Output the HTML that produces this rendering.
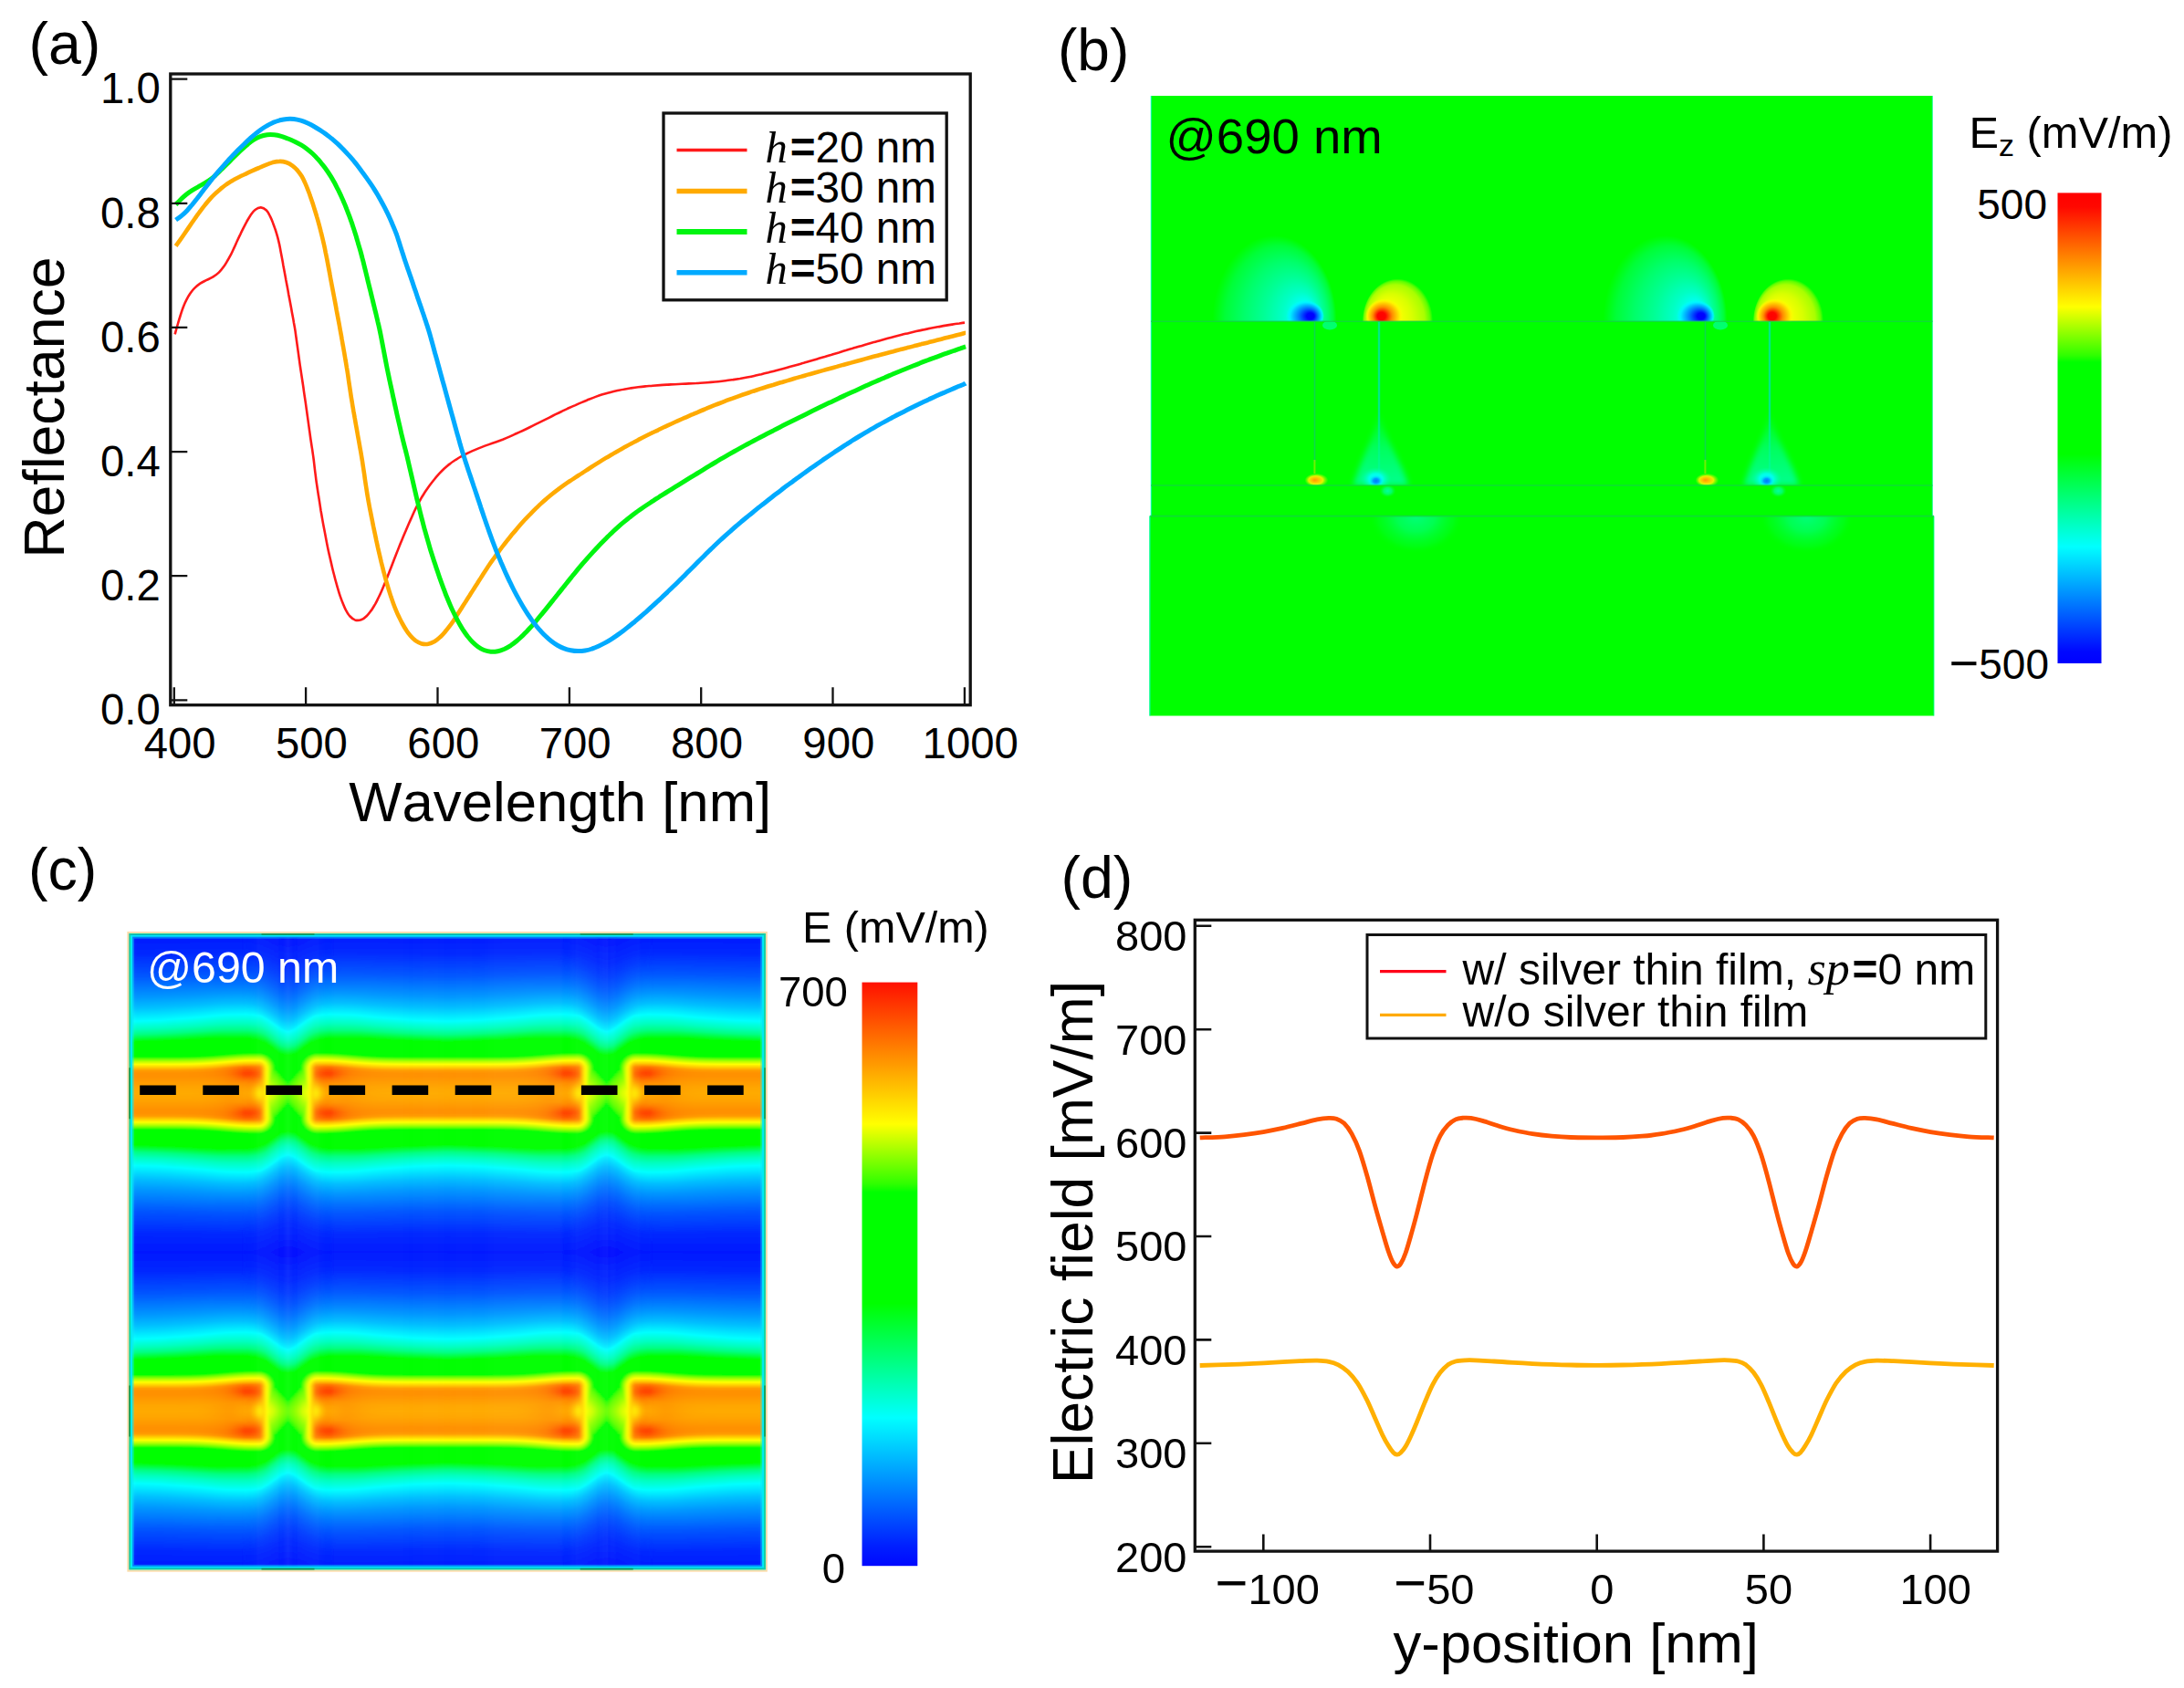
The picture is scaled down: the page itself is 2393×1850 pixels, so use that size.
<!DOCTYPE html>
<html lang="en"><head><meta charset="utf-8"><title>Figure</title>
<style>
html,body{margin:0;padding:0;background:#fff}
svg{display:block;font-family:"Liberation Sans",sans-serif;font-kerning:none}
svg .i{font-family:"Liberation Serif",serif;font-style:italic}
</style></head><body>
<svg width="2393" height="1850" viewBox="0 0 2393 1850">
<rect width="2393" height="1850" fill="#fff"/>
<defs>
<radialGradient id="bH" cx="0.5" cy="0.5" r="0.5" fx="0.798" fy="0.47"><stop offset="0" stop-color="#00ffff"/><stop offset="0.17" stop-color="#00fff4"/><stop offset="0.3" stop-color="#00ffc4"/><stop offset="0.48" stop-color="#00ff96"/><stop offset="0.68" stop-color="#00ff6a"/><stop offset="0.87" stop-color="#00ff38"/><stop offset="0.96" stop-color="#00ff10"/><stop offset="1" stop-color="#00ff00"/></radialGradient>
<radialGradient id="bC" cx="0.5" cy="0.5" r="0.5" fx="0.675" fy="0.5"><stop offset="0" stop-color="#0000ff"/><stop offset="0.2" stop-color="#0004ff"/><stop offset="0.5" stop-color="#0078ff"/><stop offset="0.84" stop-color="#00f0ff"/><stop offset="1" stop-color="#00ffff" stop-opacity="0"/></radialGradient>
<radialGradient id="rH" cx="0.5" cy="0.5" r="0.5" fx="0.265" fy="0.44"><stop offset="0" stop-color="#ffff00"/><stop offset="0.36" stop-color="#f8ff00"/><stop offset="0.6" stop-color="#d8ff00"/><stop offset="0.84" stop-color="#a8ff00"/><stop offset="0.94" stop-color="#60ff00"/><stop offset="1" stop-color="#00ff00"/></radialGradient>
<radialGradient id="rC" cx="0.5" cy="0.5" r="0.5" fx="0.405" fy="0.5"><stop offset="0" stop-color="#ff0000"/><stop offset="0.22" stop-color="#ff0400"/><stop offset="0.52" stop-color="#ff8c00"/><stop offset="0.86" stop-color="#fff000"/><stop offset="1" stop-color="#ffff00" stop-opacity="0"/></radialGradient>
<radialGradient id="sO" cx="0.5" cy="0.5" r="0.5" fx="0.42" fy="0.5"><stop offset="0" stop-color="#ff9a00"/><stop offset="0.3" stop-color="#ffc000"/><stop offset="0.6" stop-color="#f4f000" stop-opacity="0.95"/><stop offset="1" stop-color="#a0ff00" stop-opacity="0"/></radialGradient>
<radialGradient id="sB" cx="0.5" cy="0.5" r="0.5"><stop offset="0" stop-color="#0078ff"/><stop offset="0.4" stop-color="#00a0ff"/><stop offset="1" stop-color="#00f0ff" stop-opacity="0"/></radialGradient>
<radialGradient id="sC" cx="0.5" cy="0.5" r="0.5"><stop offset="0" stop-color="#00ffff"/><stop offset="0.45" stop-color="#00fff0" stop-opacity="0.9"/><stop offset="1" stop-color="#00ffa0" stop-opacity="0"/></radialGradient>
<radialGradient id="sG" cx="0.5" cy="0.5" r="0.5"><stop offset="0" stop-color="#00ffa0"/><stop offset="0.5" stop-color="#00ff80" stop-opacity="0.8"/><stop offset="1" stop-color="#00ff40" stop-opacity="0"/></radialGradient>
<linearGradient id="sH" gradientUnits="userSpaceOnUse" x1="0" y1="452" x2="0" y2="532"><stop offset="0" stop-color="#00ff60" stop-opacity="0.2"/><stop offset="0.5" stop-color="#00ff80" stop-opacity="0.75"/><stop offset="1" stop-color="#00ffa0" stop-opacity="0.9"/></linearGradient>
<radialGradient id="lH" cx="0.5" cy="0.5" r="0.5"><stop offset="0" stop-color="#00ff78"/><stop offset="0.4" stop-color="#00ff5a" stop-opacity="0.9"/><stop offset="0.8" stop-color="#00ff28" stop-opacity="0.5"/><stop offset="1" stop-color="#00ff00" stop-opacity="0"/></radialGradient>
<filter id="bl3" x="-30%" y="-30%" width="160%" height="160%"><feGaussianBlur stdDeviation="3.2"/></filter>
<clipPath id="cpU"><rect x="1255" y="100" width="870" height="252.2"/></clipPath>
<clipPath id="cpM"><rect x="1255" y="352" width="870" height="180"/></clipPath>
<clipPath id="cpL"><rect x="1255" y="565.6" width="870" height="230"/></clipPath>
<linearGradient id="cbB" x1="0" y1="0" x2="0" y2="1"><stop offset="0" stop-color="#ff0000"/><stop offset="0.03" stop-color="#ff0800"/><stop offset="0.242" stop-color="#ffff00"/><stop offset="0.345" stop-color="#30ff00"/><stop offset="0.36" stop-color="#00ff00"/><stop offset="0.555" stop-color="#00ff00"/><stop offset="0.752" stop-color="#00ffff"/><stop offset="0.975" stop-color="#0008ff"/><stop offset="1" stop-color="#0000ff"/></linearGradient>
<linearGradient id="cn0" gradientUnits="userSpaceOnUse" x1="0" y1="1198.2" x2="0" y2="1372.4" spreadMethod="reflect"><stop offset="0" stop-color="#67ff00"/><stop offset="0.0143" stop-color="#63ff00"/><stop offset="0.023" stop-color="#5dff00"/><stop offset="0.0631" stop-color="#27ff00"/><stop offset="0.0646" stop-color="#00ff00"/><stop offset="0.2396" stop-color="#00ff00"/><stop offset="0.2912" stop-color="#00ff82"/><stop offset="0.33" stop-color="#00ffbe"/><stop offset="0.3874" stop-color="#00feff"/><stop offset="0.4032" stop-color="#00ebff"/><stop offset="0.4577" stop-color="#00bfff"/><stop offset="0.5222" stop-color="#0097ff"/><stop offset="0.5911" stop-color="#0073ff"/><stop offset="0.66" stop-color="#0056ff"/><stop offset="0.7346" stop-color="#003cff"/><stop offset="0.8135" stop-color="#0028ff"/><stop offset="0.8996" stop-color="#001eff"/><stop offset="1" stop-color="#000bff"/></linearGradient>
<linearGradient id="cn1" gradientUnits="userSpaceOnUse" x1="0" y1="1198.2" x2="0" y2="1372.4" spreadMethod="reflect"><stop offset="0" stop-color="#70ff00"/><stop offset="0.0143" stop-color="#6dff00"/><stop offset="0.0316" stop-color="#62ff00"/><stop offset="0.0646" stop-color="#34ff00"/><stop offset="0.0732" stop-color="#27ff00"/><stop offset="0.0746" stop-color="#00ff00"/><stop offset="0.241" stop-color="#00ff00"/><stop offset="0.2941" stop-color="#00ff84"/><stop offset="0.3329" stop-color="#00ffbf"/><stop offset="0.3902" stop-color="#00feff"/><stop offset="0.406" stop-color="#00eaff"/><stop offset="0.4591" stop-color="#00bfff"/><stop offset="0.5237" stop-color="#0097ff"/><stop offset="0.5925" stop-color="#0073ff"/><stop offset="0.6614" stop-color="#0056ff"/><stop offset="0.736" stop-color="#003cff"/><stop offset="0.8149" stop-color="#0028ff"/><stop offset="0.901" stop-color="#001eff"/><stop offset="1" stop-color="#000bff"/></linearGradient>
<linearGradient id="cn2" gradientUnits="userSpaceOnUse" x1="0" y1="1198.2" x2="0" y2="1372.4" spreadMethod="reflect"><stop offset="0" stop-color="#79ff00"/><stop offset="0.0129" stop-color="#76ff00"/><stop offset="0.0301" stop-color="#6cff00"/><stop offset="0.043" stop-color="#62ff00"/><stop offset="0.0545" stop-color="#52ff00"/><stop offset="0.0818" stop-color="#29ff00"/><stop offset="0.0832" stop-color="#00ff00"/><stop offset="0.241" stop-color="#00ff00"/><stop offset="0.2956" stop-color="#00ff83"/><stop offset="0.3343" stop-color="#00ffbd"/><stop offset="0.3931" stop-color="#00ffff"/><stop offset="0.4089" stop-color="#00eaff"/><stop offset="0.4634" stop-color="#00beff"/><stop offset="0.5265" stop-color="#0097ff"/><stop offset="0.594" stop-color="#0074ff"/><stop offset="0.6628" stop-color="#0056ff"/><stop offset="0.7374" stop-color="#003cff"/><stop offset="0.8164" stop-color="#0028ff"/><stop offset="0.901" stop-color="#001eff"/><stop offset="1" stop-color="#000bff"/></linearGradient>
<linearGradient id="cn3" gradientUnits="userSpaceOnUse" x1="0" y1="1198.2" x2="0" y2="1372.4" spreadMethod="reflect"><stop offset="0" stop-color="#82ff00"/><stop offset="0.0215" stop-color="#7bff00"/><stop offset="0.0545" stop-color="#61ff00"/><stop offset="0.0918" stop-color="#29ff00"/><stop offset="0.0933" stop-color="#00ff00"/><stop offset="0.2425" stop-color="#00ff00"/><stop offset="0.297" stop-color="#00ff83"/><stop offset="0.3372" stop-color="#00ffbe"/><stop offset="0.3974" stop-color="#00feff"/><stop offset="0.4118" stop-color="#00ebff"/><stop offset="0.4648" stop-color="#00bfff"/><stop offset="0.5294" stop-color="#0097ff"/><stop offset="0.5968" stop-color="#0074ff"/><stop offset="0.6657" stop-color="#0056ff"/><stop offset="0.7403" stop-color="#003cff"/><stop offset="0.8178" stop-color="#0028ff"/><stop offset="0.9024" stop-color="#001eff"/><stop offset="1" stop-color="#000cff"/></linearGradient>
<linearGradient id="cn4" gradientUnits="userSpaceOnUse" x1="0" y1="1198.2" x2="0" y2="1372.4" spreadMethod="reflect"><stop offset="0" stop-color="#8bff00"/><stop offset="0.0244" stop-color="#82ff00"/><stop offset="0.0646" stop-color="#62ff00"/><stop offset="0.1004" stop-color="#2aff00"/><stop offset="0.1019" stop-color="#00ff00"/><stop offset="0.2439" stop-color="#00ff00"/><stop offset="0.2984" stop-color="#00ff82"/><stop offset="0.34" stop-color="#00ffbe"/><stop offset="0.4003" stop-color="#00ffff"/><stop offset="0.4161" stop-color="#00ebff"/><stop offset="0.4692" stop-color="#00bfff"/><stop offset="0.5323" stop-color="#0097ff"/><stop offset="0.5997" stop-color="#0074ff"/><stop offset="0.6686" stop-color="#0056ff"/><stop offset="0.7432" stop-color="#003cff"/><stop offset="0.8207" stop-color="#0028ff"/><stop offset="0.9039" stop-color="#001eff"/><stop offset="1" stop-color="#000cff"/></linearGradient>
<linearGradient id="cn5" gradientUnits="userSpaceOnUse" x1="0" y1="1198.2" x2="0" y2="1372.4" spreadMethod="reflect"><stop offset="0" stop-color="#94ff00"/><stop offset="0.0273" stop-color="#8aff00"/><stop offset="0.0746" stop-color="#62ff00"/><stop offset="0.1105" stop-color="#2aff00"/><stop offset="0.1119" stop-color="#00ff00"/><stop offset="0.2468" stop-color="#00ff00"/><stop offset="0.3027" stop-color="#00ff83"/><stop offset="0.3443" stop-color="#00ffbe"/><stop offset="0.4046" stop-color="#00ffff"/><stop offset="0.4204" stop-color="#00ebff"/><stop offset="0.4749" stop-color="#00beff"/><stop offset="0.538" stop-color="#0096ff"/><stop offset="0.604" stop-color="#0074ff"/><stop offset="0.6729" stop-color="#0055ff"/><stop offset="0.7461" stop-color="#003cff"/><stop offset="0.8235" stop-color="#0028ff"/><stop offset="0.9067" stop-color="#001eff"/><stop offset="1" stop-color="#000dff"/></linearGradient>
<linearGradient id="cn6" gradientUnits="userSpaceOnUse" x1="0" y1="1198.2" x2="0" y2="1372.4" spreadMethod="reflect"><stop offset="0" stop-color="#9eff00"/><stop offset="0.0129" stop-color="#9bff00"/><stop offset="0.0301" stop-color="#91ff00"/><stop offset="0.0846" stop-color="#61ff00"/><stop offset="0.1191" stop-color="#2bff00"/><stop offset="0.1205" stop-color="#00ff00"/><stop offset="0.2525" stop-color="#00ff00"/><stop offset="0.3085" stop-color="#00ff82"/><stop offset="0.3501" stop-color="#00ffbe"/><stop offset="0.4118" stop-color="#00feff"/><stop offset="0.4261" stop-color="#00eaff"/><stop offset="0.4792" stop-color="#00beff"/><stop offset="0.5423" stop-color="#0096ff"/><stop offset="0.6083" stop-color="#0074ff"/><stop offset="0.6772" stop-color="#0055ff"/><stop offset="0.7504" stop-color="#003cff"/><stop offset="0.8264" stop-color="#0028ff"/><stop offset="0.9082" stop-color="#001eff"/><stop offset="1" stop-color="#000dff"/></linearGradient>
<linearGradient id="cn7" gradientUnits="userSpaceOnUse" x1="0" y1="1198.2" x2="0" y2="1372.4" spreadMethod="reflect"><stop offset="0" stop-color="#a9ff00"/><stop offset="0.0129" stop-color="#a5ff00"/><stop offset="0.0344" stop-color="#97ff00"/><stop offset="0.0933" stop-color="#63ff00"/><stop offset="0.1291" stop-color="#2aff00"/><stop offset="0.1306" stop-color="#00ff00"/><stop offset="0.2597" stop-color="#00ff00"/><stop offset="0.3156" stop-color="#00ff83"/><stop offset="0.3572" stop-color="#00ffbf"/><stop offset="0.4175" stop-color="#00ffff"/><stop offset="0.4319" stop-color="#00eaff"/><stop offset="0.4849" stop-color="#00beff"/><stop offset="0.5481" stop-color="#0096ff"/><stop offset="0.6141" stop-color="#0073ff"/><stop offset="0.6815" stop-color="#0055ff"/><stop offset="0.7547" stop-color="#003cff"/><stop offset="0.8293" stop-color="#0028ff"/><stop offset="1" stop-color="#000eff"/></linearGradient>
<linearGradient id="cn8" gradientUnits="userSpaceOnUse" x1="0" y1="1198.2" x2="0" y2="1372.4" spreadMethod="reflect"><stop offset="0" stop-color="#b5ff00"/><stop offset="0.023" stop-color="#abff00"/><stop offset="0.1033" stop-color="#62ff00"/><stop offset="0.1377" stop-color="#2cff00"/><stop offset="0.1392" stop-color="#00ff00"/><stop offset="0.2654" stop-color="#00ff00"/><stop offset="0.3214" stop-color="#00ff82"/><stop offset="0.363" stop-color="#00ffbe"/><stop offset="0.4247" stop-color="#00feff"/><stop offset="0.4376" stop-color="#00eaff"/><stop offset="0.4892" stop-color="#00bfff"/><stop offset="0.5524" stop-color="#0097ff"/><stop offset="0.6184" stop-color="#0074ff"/><stop offset="0.6858" stop-color="#0056ff"/><stop offset="0.759" stop-color="#003cff"/><stop offset="0.8336" stop-color="#0028ff"/><stop offset="1" stop-color="#000fff"/></linearGradient>
<linearGradient id="cn9" gradientUnits="userSpaceOnUse" x1="0" y1="1198.2" x2="0" y2="1372.4" spreadMethod="reflect"><stop offset="0" stop-color="#c1ff00"/><stop offset="0.0115" stop-color="#beff00"/><stop offset="0.0244" stop-color="#b5ff00"/><stop offset="0.1133" stop-color="#62ff00"/><stop offset="0.1463" stop-color="#2dff00"/><stop offset="0.1478" stop-color="#00ff00"/><stop offset="0.2726" stop-color="#00ff00"/><stop offset="0.3286" stop-color="#00ff83"/><stop offset="0.3702" stop-color="#00ffbf"/><stop offset="0.4304" stop-color="#00ffff"/><stop offset="0.4433" stop-color="#00eaff"/><stop offset="0.495" stop-color="#00bfff"/><stop offset="0.5581" stop-color="#0096ff"/><stop offset="0.6241" stop-color="#0073ff"/><stop offset="0.6915" stop-color="#0055ff"/><stop offset="0.7633" stop-color="#003cff"/><stop offset="0.8364" stop-color="#0028ff"/><stop offset="1" stop-color="#0010ff"/></linearGradient>
<linearGradient id="cn10" gradientUnits="userSpaceOnUse" x1="0" y1="1198.2" x2="0" y2="1372.4" spreadMethod="reflect"><stop offset="0" stop-color="#cbff00"/><stop offset="0.0143" stop-color="#c8ff00"/><stop offset="0.0258" stop-color="#c0ff00"/><stop offset="0.122" stop-color="#63ff00"/><stop offset="0.1535" stop-color="#31ff00"/><stop offset="0.165" stop-color="#2dff00"/><stop offset="0.175" stop-color="#22ff00"/><stop offset="0.1923" stop-color="#00ff00"/><stop offset="0.2783" stop-color="#00ff00"/><stop offset="0.3343" stop-color="#00ff83"/><stop offset="0.3759" stop-color="#00ffbe"/><stop offset="0.4362" stop-color="#00ffff"/><stop offset="0.4491" stop-color="#00eaff"/><stop offset="0.5007" stop-color="#00bfff"/><stop offset="0.5638" stop-color="#0096ff"/><stop offset="0.6298" stop-color="#0073ff"/><stop offset="0.6958" stop-color="#0056ff"/><stop offset="0.7676" stop-color="#003cff"/><stop offset="0.8407" stop-color="#0028ff"/><stop offset="1" stop-color="#0010ff"/></linearGradient>
<linearGradient id="cn11" gradientUnits="userSpaceOnUse" x1="0" y1="1198.2" x2="0" y2="1372.4" spreadMethod="reflect"><stop offset="0" stop-color="#d5ff00"/><stop offset="0.0143" stop-color="#d1ff00"/><stop offset="0.0316" stop-color="#c7ff00"/><stop offset="0.0674" stop-color="#9fff00"/><stop offset="0.1277" stop-color="#67ff00"/><stop offset="0.1578" stop-color="#66ff00"/><stop offset="0.1722" stop-color="#5dff00"/><stop offset="0.1793" stop-color="#53ff00"/><stop offset="0.1894" stop-color="#3dff00"/><stop offset="0.2095" stop-color="#00ff00"/><stop offset="0.2855" stop-color="#00ff01"/><stop offset="0.34" stop-color="#00ff82"/><stop offset="0.3816" stop-color="#00ffbe"/><stop offset="0.4433" stop-color="#00feff"/><stop offset="0.4548" stop-color="#00ebff"/><stop offset="0.5065" stop-color="#00bfff"/><stop offset="0.5696" stop-color="#0096ff"/><stop offset="0.6341" stop-color="#0074ff"/><stop offset="0.7016" stop-color="#0055ff"/><stop offset="0.7719" stop-color="#003cff"/><stop offset="0.8451" stop-color="#0028ff"/><stop offset="1" stop-color="#0011ff"/></linearGradient>
<linearGradient id="cn12" gradientUnits="userSpaceOnUse" x1="0" y1="1198.2" x2="0" y2="1372.4" spreadMethod="reflect"><stop offset="0" stop-color="#deff00"/><stop offset="0.0187" stop-color="#d8ff00"/><stop offset="0.043" stop-color="#c7ff00"/><stop offset="0.089" stop-color="#94ff00"/><stop offset="0.1564" stop-color="#94ff00"/><stop offset="0.1693" stop-color="#8dff00"/><stop offset="0.1836" stop-color="#79ff00"/><stop offset="0.198" stop-color="#58ff00"/><stop offset="0.2209" stop-color="#00ff00"/><stop offset="0.2912" stop-color="#00ff00"/><stop offset="0.3472" stop-color="#00ff83"/><stop offset="0.3888" stop-color="#00ffbf"/><stop offset="0.4491" stop-color="#00ffff"/><stop offset="0.4605" stop-color="#00ebff"/><stop offset="0.5122" stop-color="#00bfff"/><stop offset="0.5753" stop-color="#0096ff"/><stop offset="0.6399" stop-color="#0074ff"/><stop offset="0.7059" stop-color="#0056ff"/><stop offset="0.7762" stop-color="#003cff"/><stop offset="0.8494" stop-color="#0028ff"/><stop offset="1" stop-color="#0012ff"/></linearGradient>
<linearGradient id="cn13" gradientUnits="userSpaceOnUse" x1="0" y1="1198.2" x2="0" y2="1372.4" spreadMethod="reflect"><stop offset="0" stop-color="#e7ff00"/><stop offset="0.0258" stop-color="#ddff00"/><stop offset="0.0617" stop-color="#bfff00"/><stop offset="0.1564" stop-color="#bfff00"/><stop offset="0.1722" stop-color="#b6ff00"/><stop offset="0.1879" stop-color="#99ff00"/><stop offset="0.2052" stop-color="#6aff00"/><stop offset="0.2123" stop-color="#50ff00"/><stop offset="0.2296" stop-color="#00ff00"/><stop offset="0.297" stop-color="#00ff00"/><stop offset="0.3529" stop-color="#00ff83"/><stop offset="0.3945" stop-color="#00ffbe"/><stop offset="0.4548" stop-color="#00ffff"/><stop offset="0.4677" stop-color="#00eaff"/><stop offset="0.5179" stop-color="#00bfff"/><stop offset="0.5811" stop-color="#0096ff"/><stop offset="0.6456" stop-color="#0073ff"/><stop offset="0.7116" stop-color="#0055ff"/><stop offset="0.7805" stop-color="#003cff"/><stop offset="0.8522" stop-color="#0028ff"/><stop offset="1" stop-color="#0013ff"/></linearGradient>
<linearGradient id="cn14" gradientUnits="userSpaceOnUse" x1="0" y1="1198.2" x2="0" y2="1372.4" spreadMethod="reflect"><stop offset="0" stop-color="#f4ff00"/><stop offset="0.0129" stop-color="#f0ff00"/><stop offset="0.033" stop-color="#e2ff00"/><stop offset="0.1564" stop-color="#e2ff00"/><stop offset="0.1707" stop-color="#d9ff00"/><stop offset="0.1808" stop-color="#ccff00"/><stop offset="0.1908" stop-color="#b9ff00"/><stop offset="0.2023" stop-color="#97ff00"/><stop offset="0.2195" stop-color="#58ff00"/><stop offset="0.2367" stop-color="#00ff00"/><stop offset="0.3042" stop-color="#00ff01"/><stop offset="0.3587" stop-color="#00ff82"/><stop offset="0.4003" stop-color="#00ffbe"/><stop offset="0.462" stop-color="#00fdff"/><stop offset="0.4735" stop-color="#00eaff"/><stop offset="0.5237" stop-color="#00beff"/><stop offset="0.5854" stop-color="#0097ff"/><stop offset="0.6499" stop-color="#0074ff"/><stop offset="0.7159" stop-color="#0055ff"/><stop offset="0.7848" stop-color="#003cff"/><stop offset="0.8565" stop-color="#0028ff"/><stop offset="1" stop-color="#0013ff"/></linearGradient>
<linearGradient id="cn15" gradientUnits="userSpaceOnUse" x1="0" y1="1198.2" x2="0" y2="1372.4" spreadMethod="reflect"><stop offset="0" stop-color="#fffc00"/><stop offset="0.1549" stop-color="#fffb00"/><stop offset="0.1679" stop-color="#feff00"/><stop offset="0.1851" stop-color="#e3ff00"/><stop offset="0.2037" stop-color="#b4ff00"/><stop offset="0.2267" stop-color="#57ff00"/><stop offset="0.2425" stop-color="#00ff00"/><stop offset="0.3099" stop-color="#00ff00"/><stop offset="0.3659" stop-color="#00ff84"/><stop offset="0.406" stop-color="#00ffbe"/><stop offset="0.4663" stop-color="#00ffff"/><stop offset="0.4778" stop-color="#00ebff"/><stop offset="0.5294" stop-color="#00beff"/><stop offset="0.5911" stop-color="#0096ff"/><stop offset="0.6557" stop-color="#0073ff"/><stop offset="0.7202" stop-color="#0056ff"/><stop offset="0.7891" stop-color="#003cff"/><stop offset="0.8594" stop-color="#0028ff"/><stop offset="1" stop-color="#0014ff"/></linearGradient>
<linearGradient id="cn16" gradientUnits="userSpaceOnUse" x1="0" y1="1198.2" x2="0" y2="1372.4" spreadMethod="reflect"><stop offset="0" stop-color="#ffeb00"/><stop offset="0.1564" stop-color="#ffe500"/><stop offset="0.1693" stop-color="#ffeb00"/><stop offset="0.1851" stop-color="#fffe00"/><stop offset="0.198" stop-color="#deff00"/><stop offset="0.2123" stop-color="#b0ff00"/><stop offset="0.231" stop-color="#5cff00"/><stop offset="0.2468" stop-color="#00ff00"/><stop offset="0.3156" stop-color="#00ff00"/><stop offset="0.3702" stop-color="#00ff82"/><stop offset="0.4118" stop-color="#00ffbf"/><stop offset="0.4706" stop-color="#00ffff"/><stop offset="0.4835" stop-color="#00ebff"/><stop offset="0.5337" stop-color="#00beff"/><stop offset="0.5954" stop-color="#0096ff"/><stop offset="0.66" stop-color="#0073ff"/><stop offset="0.7245" stop-color="#0056ff"/><stop offset="0.7934" stop-color="#003cff"/><stop offset="0.8623" stop-color="#0028ff"/><stop offset="1" stop-color="#0015ff"/></linearGradient>
<linearGradient id="cn17" gradientUnits="userSpaceOnUse" x1="0" y1="1198.2" x2="0" y2="1372.4" spreadMethod="reflect"><stop offset="0" stop-color="#ffe100"/><stop offset="0.109" stop-color="#ffca00"/><stop offset="0.1549" stop-color="#ffcb00"/><stop offset="0.1707" stop-color="#ffd700"/><stop offset="0.1951" stop-color="#feff00"/><stop offset="0.2166" stop-color="#b5ff00"/><stop offset="0.2353" stop-color="#5bff00"/><stop offset="0.2496" stop-color="#01ff00"/><stop offset="0.2511" stop-color="#00ff00"/><stop offset="0.3185" stop-color="#00ff00"/><stop offset="0.3745" stop-color="#00ff83"/><stop offset="0.4161" stop-color="#00ffbf"/><stop offset="0.4763" stop-color="#00feff"/><stop offset="0.4892" stop-color="#00eaff"/><stop offset="0.538" stop-color="#00bfff"/><stop offset="0.5997" stop-color="#0097ff"/><stop offset="0.6643" stop-color="#0073ff"/><stop offset="0.7288" stop-color="#0055ff"/><stop offset="0.7963" stop-color="#003cff"/><stop offset="0.8651" stop-color="#0028ff"/><stop offset="1" stop-color="#0015ff"/></linearGradient>
<linearGradient id="cn18" gradientUnits="userSpaceOnUse" x1="0" y1="1198.2" x2="0" y2="1372.4" spreadMethod="reflect"><stop offset="0" stop-color="#ffde00"/><stop offset="0.0258" stop-color="#ffd700"/><stop offset="0.1033" stop-color="#ffae00"/><stop offset="0.1205" stop-color="#ffa900"/><stop offset="0.1377" stop-color="#ffaa00"/><stop offset="0.1564" stop-color="#ffae00"/><stop offset="0.165" stop-color="#ffb600"/><stop offset="0.175" stop-color="#ffc800"/><stop offset="0.2009" stop-color="#feff00"/><stop offset="0.2209" stop-color="#b3ff00"/><stop offset="0.2382" stop-color="#5cff00"/><stop offset="0.2525" stop-color="#00ff00"/><stop offset="0.3228" stop-color="#00ff01"/><stop offset="0.3788" stop-color="#00ff83"/><stop offset="0.4204" stop-color="#00ffbf"/><stop offset="0.4806" stop-color="#00ffff"/><stop offset="0.4935" stop-color="#00eaff"/><stop offset="0.5423" stop-color="#00bfff"/><stop offset="0.604" stop-color="#0097ff"/><stop offset="0.6686" stop-color="#0073ff"/><stop offset="0.7317" stop-color="#0056ff"/><stop offset="0.8006" stop-color="#003cff"/><stop offset="0.868" stop-color="#0028ff"/><stop offset="1" stop-color="#0016ff"/></linearGradient>
<linearGradient id="cn19" gradientUnits="userSpaceOnUse" x1="0" y1="1198.2" x2="0" y2="1372.4" spreadMethod="reflect"><stop offset="0" stop-color="#ffe200"/><stop offset="0.0129" stop-color="#ffdf00"/><stop offset="0.0258" stop-color="#ffd700"/><stop offset="0.1019" stop-color="#ff9000"/><stop offset="0.1162" stop-color="#ff8800"/><stop offset="0.1306" stop-color="#ff8700"/><stop offset="0.1549" stop-color="#ff9000"/><stop offset="0.1621" stop-color="#ff9800"/><stop offset="0.1736" stop-color="#ffb100"/><stop offset="0.2037" stop-color="#fffe00"/><stop offset="0.2238" stop-color="#b1ff00"/><stop offset="0.241" stop-color="#57ff00"/><stop offset="0.2539" stop-color="#02ff00"/><stop offset="0.2554" stop-color="#00ff00"/><stop offset="0.3257" stop-color="#00ff00"/><stop offset="0.3816" stop-color="#00ff82"/><stop offset="0.4247" stop-color="#00ffbf"/><stop offset="0.4864" stop-color="#00feff"/><stop offset="0.4978" stop-color="#00eaff"/><stop offset="0.5466" stop-color="#00bfff"/><stop offset="0.6083" stop-color="#0096ff"/><stop offset="0.6714" stop-color="#0074ff"/><stop offset="0.736" stop-color="#0055ff"/><stop offset="0.8034" stop-color="#003cff"/><stop offset="0.8709" stop-color="#0028ff"/><stop offset="1" stop-color="#0016ff"/></linearGradient>
<linearGradient id="cn20" gradientUnits="userSpaceOnUse" x1="0" y1="1198.2" x2="0" y2="1372.4" spreadMethod="reflect"><stop offset="0" stop-color="#ffe700"/><stop offset="0.0129" stop-color="#ffe400"/><stop offset="0.0273" stop-color="#ffd800"/><stop offset="0.1033" stop-color="#ff7c00"/><stop offset="0.1162" stop-color="#ff7300"/><stop offset="0.1291" stop-color="#ff7100"/><stop offset="0.1506" stop-color="#ff7b00"/><stop offset="0.165" stop-color="#ff8800"/><stop offset="0.1937" stop-color="#ffdf00"/><stop offset="0.2052" stop-color="#fffd00"/><stop offset="0.2066" stop-color="#fdff00"/><stop offset="0.2253" stop-color="#b1ff00"/><stop offset="0.2425" stop-color="#55ff00"/><stop offset="0.2554" stop-color="#00ff00"/><stop offset="0.3286" stop-color="#00ff00"/><stop offset="0.3845" stop-color="#00ff82"/><stop offset="0.4275" stop-color="#00ffbf"/><stop offset="0.4892" stop-color="#00feff"/><stop offset="0.5007" stop-color="#00ebff"/><stop offset="0.5509" stop-color="#00beff"/><stop offset="0.6112" stop-color="#0097ff"/><stop offset="0.6743" stop-color="#0074ff"/><stop offset="0.7389" stop-color="#0055ff"/><stop offset="0.8063" stop-color="#003cff"/><stop offset="0.8737" stop-color="#0028ff"/><stop offset="1" stop-color="#0017ff"/></linearGradient>
<linearGradient id="cn21" gradientUnits="userSpaceOnUse" x1="0" y1="1198.2" x2="0" y2="1372.4" spreadMethod="reflect"><stop offset="0" stop-color="#ffe000"/><stop offset="0.0129" stop-color="#ffdc00"/><stop offset="0.0287" stop-color="#ffcf00"/><stop offset="0.1047" stop-color="#ff6f00"/><stop offset="0.1176" stop-color="#ff6600"/><stop offset="0.1291" stop-color="#ff6500"/><stop offset="0.1535" stop-color="#ff7300"/><stop offset="0.1664" stop-color="#ff8500"/><stop offset="0.1908" stop-color="#ffd400"/><stop offset="0.2066" stop-color="#ffff00"/><stop offset="0.2253" stop-color="#b3ff00"/><stop offset="0.2425" stop-color="#57ff00"/><stop offset="0.2554" stop-color="#00ff00"/><stop offset="0.2568" stop-color="#00ff00"/><stop offset="0.3314" stop-color="#00ff00"/><stop offset="0.3874" stop-color="#00ff83"/><stop offset="0.429" stop-color="#00ffbe"/><stop offset="0.4892" stop-color="#00ffff"/><stop offset="0.5036" stop-color="#00ebff"/><stop offset="0.5538" stop-color="#00beff"/><stop offset="0.6141" stop-color="#0096ff"/><stop offset="0.6772" stop-color="#0074ff"/><stop offset="0.7403" stop-color="#0056ff"/><stop offset="0.8077" stop-color="#003cff"/><stop offset="0.8752" stop-color="#0028ff"/><stop offset="1" stop-color="#0017ff"/></linearGradient>
<linearGradient id="cn22" gradientUnits="userSpaceOnUse" x1="0" y1="1198.2" x2="0" y2="1372.4" spreadMethod="reflect"><stop offset="0" stop-color="#ffd800"/><stop offset="0.0143" stop-color="#ffd300"/><stop offset="0.0301" stop-color="#ffc600"/><stop offset="0.1076" stop-color="#ff6500"/><stop offset="0.1191" stop-color="#ff5e00"/><stop offset="0.1291" stop-color="#ff5d00"/><stop offset="0.1506" stop-color="#ff6a00"/><stop offset="0.1664" stop-color="#ff8300"/><stop offset="0.1894" stop-color="#ffcf00"/><stop offset="0.2066" stop-color="#ffff00"/><stop offset="0.2253" stop-color="#b3ff00"/><stop offset="0.2425" stop-color="#57ff00"/><stop offset="0.2554" stop-color="#00ff00"/><stop offset="0.2568" stop-color="#00ff00"/><stop offset="0.3357" stop-color="#00ff01"/><stop offset="0.3902" stop-color="#00ff83"/><stop offset="0.4304" stop-color="#00ffbe"/><stop offset="0.4907" stop-color="#00feff"/><stop offset="0.5065" stop-color="#00ebff"/><stop offset="0.5552" stop-color="#00bfff"/><stop offset="0.6169" stop-color="#0096ff"/><stop offset="0.6801" stop-color="#0073ff"/><stop offset="0.7432" stop-color="#0056ff"/><stop offset="0.8106" stop-color="#003cff"/><stop offset="0.8766" stop-color="#0028ff"/><stop offset="1" stop-color="#0017ff"/></linearGradient>
<linearGradient id="cn23" gradientUnits="userSpaceOnUse" x1="0" y1="1198.2" x2="0" y2="1372.4" spreadMethod="reflect"><stop offset="0" stop-color="#ffce00"/><stop offset="0.0129" stop-color="#ffca00"/><stop offset="0.0287" stop-color="#ffbf00"/><stop offset="0.0617" stop-color="#ff9a00"/><stop offset="0.1062" stop-color="#ff6100"/><stop offset="0.1176" stop-color="#ff5800"/><stop offset="0.1291" stop-color="#ff5700"/><stop offset="0.1506" stop-color="#ff6600"/><stop offset="0.1664" stop-color="#ff8000"/><stop offset="0.1894" stop-color="#ffcf00"/><stop offset="0.2066" stop-color="#ffff00"/><stop offset="0.2253" stop-color="#b3ff00"/><stop offset="0.2425" stop-color="#57ff00"/><stop offset="0.2554" stop-color="#00ff00"/><stop offset="0.2568" stop-color="#00ff00"/><stop offset="0.3372" stop-color="#00ff01"/><stop offset="0.3917" stop-color="#00ff83"/><stop offset="0.4319" stop-color="#00ffbe"/><stop offset="0.4907" stop-color="#00ffff"/><stop offset="0.5093" stop-color="#00ebff"/><stop offset="0.5581" stop-color="#00beff"/><stop offset="0.6198" stop-color="#0096ff"/><stop offset="0.6815" stop-color="#0074ff"/><stop offset="0.7446" stop-color="#0056ff"/><stop offset="0.8121" stop-color="#003cff"/><stop offset="0.878" stop-color="#0028ff"/><stop offset="1" stop-color="#0018ff"/></linearGradient>
<linearGradient id="cn24" gradientUnits="userSpaceOnUse" x1="0" y1="1198.2" x2="0" y2="1372.4" spreadMethod="reflect"><stop offset="0" stop-color="#ffc000"/><stop offset="0.0158" stop-color="#ffbc00"/><stop offset="0.033" stop-color="#ffb000"/><stop offset="0.0674" stop-color="#ff8d00"/><stop offset="0.1076" stop-color="#ff5900"/><stop offset="0.1176" stop-color="#ff5200"/><stop offset="0.1291" stop-color="#ff5100"/><stop offset="0.1506" stop-color="#ff6200"/><stop offset="0.1664" stop-color="#ff7d00"/><stop offset="0.1879" stop-color="#ffca00"/><stop offset="0.2066" stop-color="#ffff00"/><stop offset="0.2253" stop-color="#b3ff00"/><stop offset="0.2425" stop-color="#57ff00"/><stop offset="0.2554" stop-color="#00ff00"/><stop offset="0.2568" stop-color="#00ff00"/><stop offset="0.3386" stop-color="#00ff01"/><stop offset="0.3931" stop-color="#00ff84"/><stop offset="0.4333" stop-color="#00ffbf"/><stop offset="0.4921" stop-color="#00ffff"/><stop offset="0.561" stop-color="#00beff"/><stop offset="0.6212" stop-color="#0096ff"/><stop offset="0.6844" stop-color="#0073ff"/><stop offset="0.7475" stop-color="#0055ff"/><stop offset="0.8795" stop-color="#0028ff"/><stop offset="1" stop-color="#0018ff"/></linearGradient>
<linearGradient id="cn25" gradientUnits="userSpaceOnUse" x1="0" y1="1198.2" x2="0" y2="1372.4" spreadMethod="reflect"><stop offset="0" stop-color="#ffb400"/><stop offset="0.0201" stop-color="#ffaf00"/><stop offset="0.0473" stop-color="#ff9c00"/><stop offset="0.0732" stop-color="#ff8400"/><stop offset="0.109" stop-color="#ff5500"/><stop offset="0.1205" stop-color="#ff4c00"/><stop offset="0.1291" stop-color="#ff4b00"/><stop offset="0.1506" stop-color="#ff5e00"/><stop offset="0.1664" stop-color="#ff7b00"/><stop offset="0.1879" stop-color="#ffca00"/><stop offset="0.2066" stop-color="#ffff00"/><stop offset="0.2253" stop-color="#b3ff00"/><stop offset="0.2425" stop-color="#57ff00"/><stop offset="0.2554" stop-color="#00ff00"/><stop offset="0.2568" stop-color="#00ff00"/><stop offset="0.34" stop-color="#00ff01"/><stop offset="0.3945" stop-color="#00ff84"/><stop offset="0.4347" stop-color="#00ffbf"/><stop offset="0.4935" stop-color="#00ffff"/><stop offset="0.5624" stop-color="#00bfff"/><stop offset="0.6241" stop-color="#0096ff"/><stop offset="0.6858" stop-color="#0074ff"/><stop offset="0.7489" stop-color="#0056ff"/><stop offset="0.8809" stop-color="#0028ff"/><stop offset="1" stop-color="#0018ff"/></linearGradient>
<linearGradient id="cn26" gradientUnits="userSpaceOnUse" x1="0" y1="1198.2" x2="0" y2="1372.4" spreadMethod="reflect"><stop offset="0" stop-color="#ffac00"/><stop offset="0.0244" stop-color="#ffa500"/><stop offset="0.0574" stop-color="#ff9100"/><stop offset="0.0775" stop-color="#ff7d00"/><stop offset="0.1133" stop-color="#ff4d00"/><stop offset="0.1291" stop-color="#ff4600"/><stop offset="0.1506" stop-color="#ff5b00"/><stop offset="0.1664" stop-color="#ff7900"/><stop offset="0.1879" stop-color="#ffca00"/><stop offset="0.2066" stop-color="#ffff00"/><stop offset="0.2253" stop-color="#b2ff00"/><stop offset="0.2425" stop-color="#57ff00"/><stop offset="0.2554" stop-color="#00ff00"/><stop offset="0.3415" stop-color="#00ff00"/><stop offset="0.396" stop-color="#00ff84"/><stop offset="0.4347" stop-color="#00ffbd"/><stop offset="0.495" stop-color="#00feff"/><stop offset="0.5638" stop-color="#00bfff"/><stop offset="0.6241" stop-color="#0097ff"/><stop offset="0.6872" stop-color="#0074ff"/><stop offset="0.7504" stop-color="#0056ff"/><stop offset="0.8164" stop-color="#003cff"/><stop offset="0.8824" stop-color="#0028ff"/><stop offset="1" stop-color="#0019ff"/></linearGradient>
<linearGradient id="cn27" gradientUnits="userSpaceOnUse" x1="0" y1="1198.2" x2="0" y2="1372.4" spreadMethod="reflect"><stop offset="0" stop-color="#ffa700"/><stop offset="0.0273" stop-color="#ffa000"/><stop offset="0.0617" stop-color="#ff8c00"/><stop offset="0.0832" stop-color="#ff7700"/><stop offset="0.1119" stop-color="#ff4d00"/><stop offset="0.1205" stop-color="#ff4600"/><stop offset="0.1291" stop-color="#ff4400"/><stop offset="0.1506" stop-color="#ff5900"/><stop offset="0.1664" stop-color="#ff7800"/><stop offset="0.1765" stop-color="#ffa100"/><stop offset="0.1879" stop-color="#ffca00"/><stop offset="0.2066" stop-color="#feff00"/><stop offset="0.2253" stop-color="#b1ff00"/><stop offset="0.2425" stop-color="#55ff00"/><stop offset="0.2554" stop-color="#00ff00"/><stop offset="0.3429" stop-color="#00ff00"/><stop offset="0.396" stop-color="#00ff81"/><stop offset="0.4362" stop-color="#00ffbd"/><stop offset="0.495" stop-color="#00ffff"/><stop offset="0.5653" stop-color="#00bfff"/><stop offset="0.6255" stop-color="#0097ff"/><stop offset="0.6887" stop-color="#0074ff"/><stop offset="0.7518" stop-color="#0056ff"/><stop offset="0.8178" stop-color="#003cff"/><stop offset="0.8838" stop-color="#0028ff"/><stop offset="1" stop-color="#0019ff"/></linearGradient>
<linearGradient id="cn28" gradientUnits="userSpaceOnUse" x1="0" y1="1198.2" x2="0" y2="1372.4" spreadMethod="reflect"><stop offset="0" stop-color="#ffa600"/><stop offset="0.0287" stop-color="#ff9f00"/><stop offset="0.0646" stop-color="#ff8c00"/><stop offset="0.0803" stop-color="#ff7c00"/><stop offset="0.1119" stop-color="#ff4d00"/><stop offset="0.1205" stop-color="#ff4600"/><stop offset="0.1291" stop-color="#ff4500"/><stop offset="0.1492" stop-color="#ff5700"/><stop offset="0.1664" stop-color="#ff7900"/><stop offset="0.1765" stop-color="#ffa200"/><stop offset="0.1865" stop-color="#ffc600"/><stop offset="0.2052" stop-color="#fffd00"/><stop offset="0.2066" stop-color="#fcff00"/><stop offset="0.2253" stop-color="#afff00"/><stop offset="0.241" stop-color="#5cff00"/><stop offset="0.2539" stop-color="#06ff00"/><stop offset="0.2554" stop-color="#00ff00"/><stop offset="0.3443" stop-color="#00ff00"/><stop offset="0.3974" stop-color="#00ff81"/><stop offset="0.4376" stop-color="#00ffbe"/><stop offset="0.4964" stop-color="#00ffff"/><stop offset="0.5667" stop-color="#00bfff"/><stop offset="0.627" stop-color="#0097ff"/><stop offset="0.6901" stop-color="#0074ff"/><stop offset="0.7532" stop-color="#0055ff"/><stop offset="0.8838" stop-color="#0028ff"/><stop offset="1" stop-color="#0019ff"/></linearGradient>
<linearGradient id="cn29" gradientUnits="userSpaceOnUse" x1="0" y1="1198.2" x2="0" y2="1372.4" spreadMethod="reflect"><stop offset="0" stop-color="#ffa600"/><stop offset="0.0301" stop-color="#ffa000"/><stop offset="0.066" stop-color="#ff8d00"/><stop offset="0.0789" stop-color="#ff7e00"/><stop offset="0.1105" stop-color="#ff5000"/><stop offset="0.1205" stop-color="#ff4800"/><stop offset="0.1291" stop-color="#ff4700"/><stop offset="0.1492" stop-color="#ff5900"/><stop offset="0.165" stop-color="#ff7600"/><stop offset="0.1865" stop-color="#ffc700"/><stop offset="0.2052" stop-color="#fffe00"/><stop offset="0.2238" stop-color="#b5ff00"/><stop offset="0.241" stop-color="#59ff00"/><stop offset="0.2539" stop-color="#03ff00"/><stop offset="0.2554" stop-color="#00ff00"/><stop offset="0.3443" stop-color="#00ff00"/><stop offset="0.3974" stop-color="#00ff82"/><stop offset="0.4376" stop-color="#00ffbe"/><stop offset="0.4964" stop-color="#00ffff"/><stop offset="0.5681" stop-color="#00beff"/><stop offset="0.627" stop-color="#0097ff"/><stop offset="0.6901" stop-color="#0074ff"/><stop offset="0.7532" stop-color="#0056ff"/><stop offset="0.8192" stop-color="#003cff"/><stop offset="0.8852" stop-color="#0028ff"/><stop offset="1" stop-color="#0019ff"/></linearGradient>
<linearGradient id="cf0" gradientUnits="userSpaceOnUse" x1="0" y1="1198.2" x2="0" y2="1372.4" spreadMethod="reflect"><stop offset="0" stop-color="#ffba00"/><stop offset="0.0187" stop-color="#ffb500"/><stop offset="0.0402" stop-color="#ffa600"/><stop offset="0.0703" stop-color="#ff8800"/><stop offset="0.109" stop-color="#ff5600"/><stop offset="0.1291" stop-color="#ff4d00"/><stop offset="0.1506" stop-color="#ff6000"/><stop offset="0.1664" stop-color="#ff7c00"/><stop offset="0.1879" stop-color="#ffca00"/><stop offset="0.2066" stop-color="#ffff00"/><stop offset="0.2253" stop-color="#b3ff00"/><stop offset="0.2425" stop-color="#57ff00"/><stop offset="0.2554" stop-color="#00ff00"/><stop offset="0.2568" stop-color="#00ff00"/><stop offset="0.3386" stop-color="#00ff00"/><stop offset="0.3931" stop-color="#00ff83"/><stop offset="0.4333" stop-color="#00ffbe"/><stop offset="0.4921" stop-color="#00ffff"/><stop offset="0.561" stop-color="#00bfff"/><stop offset="0.6227" stop-color="#0096ff"/><stop offset="0.6844" stop-color="#0074ff"/><stop offset="0.7475" stop-color="#0056ff"/><stop offset="0.8149" stop-color="#003cff"/><stop offset="0.8809" stop-color="#0028ff"/><stop offset="1" stop-color="#0018ff"/></linearGradient>
<linearGradient id="cf1" gradientUnits="userSpaceOnUse" x1="0" y1="1198.2" x2="0" y2="1372.4" spreadMethod="reflect"><stop offset="0" stop-color="#ffa900"/><stop offset="0.0258" stop-color="#ffa200"/><stop offset="0.0603" stop-color="#ff8e00"/><stop offset="0.0803" stop-color="#ff7a00"/><stop offset="0.1133" stop-color="#ff4c00"/><stop offset="0.122" stop-color="#ff4600"/><stop offset="0.1291" stop-color="#ff4500"/><stop offset="0.1506" stop-color="#ff5a00"/><stop offset="0.1664" stop-color="#ff7900"/><stop offset="0.1765" stop-color="#ffa100"/><stop offset="0.1879" stop-color="#ffca00"/><stop offset="0.2066" stop-color="#feff00"/><stop offset="0.2253" stop-color="#b2ff00"/><stop offset="0.2425" stop-color="#56ff00"/><stop offset="0.2554" stop-color="#00ff00"/><stop offset="0.3415" stop-color="#00ff00"/><stop offset="0.396" stop-color="#00ff83"/><stop offset="0.4362" stop-color="#00ffbe"/><stop offset="0.495" stop-color="#00ffff"/><stop offset="0.5653" stop-color="#00bfff"/><stop offset="0.6255" stop-color="#0097ff"/><stop offset="0.6887" stop-color="#0073ff"/><stop offset="0.7518" stop-color="#0055ff"/><stop offset="0.8824" stop-color="#0028ff"/><stop offset="1" stop-color="#0019ff"/></linearGradient>
<linearGradient id="cf2" gradientUnits="userSpaceOnUse" x1="0" y1="1198.2" x2="0" y2="1372.4" spreadMethod="reflect"><stop offset="0" stop-color="#ffa600"/><stop offset="0.0287" stop-color="#ffa000"/><stop offset="0.0646" stop-color="#ff8d00"/><stop offset="0.076" stop-color="#ff8200"/><stop offset="0.1105" stop-color="#ff4f00"/><stop offset="0.1205" stop-color="#ff4700"/><stop offset="0.1291" stop-color="#ff4600"/><stop offset="0.1492" stop-color="#ff5800"/><stop offset="0.165" stop-color="#ff7600"/><stop offset="0.1865" stop-color="#ffc700"/><stop offset="0.2052" stop-color="#fffd00"/><stop offset="0.2253" stop-color="#aeff00"/><stop offset="0.241" stop-color="#5bff00"/><stop offset="0.2539" stop-color="#04ff00"/><stop offset="0.2554" stop-color="#00ff00"/><stop offset="0.3443" stop-color="#00ff00"/><stop offset="0.3974" stop-color="#00ff82"/><stop offset="0.4376" stop-color="#00ffbe"/><stop offset="0.4964" stop-color="#00ffff"/><stop offset="0.5681" stop-color="#00beff"/><stop offset="0.627" stop-color="#0097ff"/><stop offset="0.6901" stop-color="#0074ff"/><stop offset="0.7532" stop-color="#0055ff"/><stop offset="0.8838" stop-color="#0028ff"/><stop offset="1" stop-color="#0019ff"/></linearGradient>
<linearGradient id="cf3" gradientUnits="userSpaceOnUse" x1="0" y1="1198.2" x2="0" y2="1372.4" spreadMethod="reflect"><stop offset="0" stop-color="#ffa600"/><stop offset="0.0273" stop-color="#ffa100"/><stop offset="0.0574" stop-color="#ff9500"/><stop offset="0.076" stop-color="#ff8300"/><stop offset="0.1119" stop-color="#ff5500"/><stop offset="0.122" stop-color="#ff4e00"/><stop offset="0.1306" stop-color="#ff4f00"/><stop offset="0.1492" stop-color="#ff5e00"/><stop offset="0.165" stop-color="#ff7900"/><stop offset="0.1851" stop-color="#ffc500"/><stop offset="0.2037" stop-color="#fffd00"/><stop offset="0.2052" stop-color="#fdff00"/><stop offset="0.2238" stop-color="#b0ff00"/><stop offset="0.2396" stop-color="#5dff00"/><stop offset="0.2539" stop-color="#00ff00"/><stop offset="0.3443" stop-color="#00ff00"/><stop offset="0.3974" stop-color="#00ff82"/><stop offset="0.4376" stop-color="#00ffbe"/><stop offset="0.4964" stop-color="#00ffff"/><stop offset="0.5681" stop-color="#00bfff"/><stop offset="0.6284" stop-color="#0097ff"/><stop offset="0.6915" stop-color="#0073ff"/><stop offset="0.7532" stop-color="#0056ff"/><stop offset="0.8192" stop-color="#003cff"/><stop offset="0.8852" stop-color="#0028ff"/><stop offset="1" stop-color="#0019ff"/></linearGradient>
<linearGradient id="cf4" gradientUnits="userSpaceOnUse" x1="0" y1="1198.2" x2="0" y2="1372.4" spreadMethod="reflect"><stop offset="0" stop-color="#ffa300"/><stop offset="0.0258" stop-color="#ffa000"/><stop offset="0.056" stop-color="#ff9500"/><stop offset="0.0746" stop-color="#ff8600"/><stop offset="0.1133" stop-color="#ff6000"/><stop offset="0.1248" stop-color="#ff5b00"/><stop offset="0.1349" stop-color="#ff5d00"/><stop offset="0.1478" stop-color="#ff6600"/><stop offset="0.1636" stop-color="#ff7d00"/><stop offset="0.1851" stop-color="#ffca00"/><stop offset="0.2023" stop-color="#fffc00"/><stop offset="0.2037" stop-color="#fdff00"/><stop offset="0.2224" stop-color="#b0ff00"/><stop offset="0.2382" stop-color="#5dff00"/><stop offset="0.2525" stop-color="#00ff00"/><stop offset="0.3443" stop-color="#00ff00"/><stop offset="0.3974" stop-color="#00ff82"/><stop offset="0.4376" stop-color="#00ffbe"/><stop offset="0.4964" stop-color="#00feff"/><stop offset="0.5681" stop-color="#00bfff"/><stop offset="0.6284" stop-color="#0097ff"/><stop offset="0.6915" stop-color="#0073ff"/><stop offset="0.7547" stop-color="#0055ff"/><stop offset="0.8852" stop-color="#0028ff"/><stop offset="1" stop-color="#0019ff"/></linearGradient>
<linearGradient id="cf5" gradientUnits="userSpaceOnUse" x1="0" y1="1198.2" x2="0" y2="1372.4" spreadMethod="reflect"><stop offset="0" stop-color="#ff9e00"/><stop offset="0.0201" stop-color="#ff9d00"/><stop offset="0.0545" stop-color="#ff9500"/><stop offset="0.122" stop-color="#ff6900"/><stop offset="0.1449" stop-color="#ff6e00"/><stop offset="0.1636" stop-color="#ff8600"/><stop offset="0.1851" stop-color="#ffd000"/><stop offset="0.2009" stop-color="#fffd00"/><stop offset="0.2023" stop-color="#fcff00"/><stop offset="0.2209" stop-color="#afff00"/><stop offset="0.2367" stop-color="#5cff00"/><stop offset="0.2496" stop-color="#05ff00"/><stop offset="0.2511" stop-color="#00ff00"/><stop offset="0.3443" stop-color="#00ff00"/><stop offset="0.3974" stop-color="#00ff82"/><stop offset="0.4376" stop-color="#00ffbf"/><stop offset="0.495" stop-color="#00ffff"/><stop offset="0.5681" stop-color="#00bfff"/><stop offset="0.6284" stop-color="#0097ff"/><stop offset="0.6915" stop-color="#0073ff"/><stop offset="0.7547" stop-color="#0055ff"/><stop offset="0.8852" stop-color="#0028ff"/><stop offset="1" stop-color="#0019ff"/></linearGradient>
<linearGradient id="cf6" gradientUnits="userSpaceOnUse" x1="0" y1="1198.2" x2="0" y2="1372.4" spreadMethod="reflect"><stop offset="0" stop-color="#ff9c00"/><stop offset="0.0516" stop-color="#ff9600"/><stop offset="0.1205" stop-color="#ff7400"/><stop offset="0.1435" stop-color="#ff7700"/><stop offset="0.1607" stop-color="#ff8800"/><stop offset="0.1865" stop-color="#ffdb00"/><stop offset="0.1994" stop-color="#fffe00"/><stop offset="0.2181" stop-color="#b4ff00"/><stop offset="0.2353" stop-color="#59ff00"/><stop offset="0.2482" stop-color="#02ff00"/><stop offset="0.2496" stop-color="#00ff00"/><stop offset="0.3443" stop-color="#00ff00"/><stop offset="0.3974" stop-color="#00ff82"/><stop offset="0.4376" stop-color="#00ffbf"/><stop offset="0.495" stop-color="#00ffff"/><stop offset="0.5681" stop-color="#00beff"/><stop offset="0.6284" stop-color="#0097ff"/><stop offset="0.6915" stop-color="#0073ff"/><stop offset="0.7547" stop-color="#0055ff"/><stop offset="0.8852" stop-color="#0028ff"/><stop offset="1" stop-color="#0019ff"/></linearGradient>
<linearGradient id="cf7" gradientUnits="userSpaceOnUse" x1="0" y1="1198.2" x2="0" y2="1372.4" spreadMethod="reflect"><stop offset="0" stop-color="#ff9c00"/><stop offset="0.0502" stop-color="#ff9700"/><stop offset="0.1191" stop-color="#ff7c00"/><stop offset="0.142" stop-color="#ff7d00"/><stop offset="0.1593" stop-color="#ff8d00"/><stop offset="0.1851" stop-color="#ffdd00"/><stop offset="0.198" stop-color="#feff00"/><stop offset="0.2166" stop-color="#b2ff00"/><stop offset="0.2339" stop-color="#56ff00"/><stop offset="0.2468" stop-color="#00ff00"/><stop offset="0.3443" stop-color="#00ff00"/><stop offset="0.3974" stop-color="#00ff82"/><stop offset="0.4362" stop-color="#00ffbd"/><stop offset="0.495" stop-color="#00feff"/><stop offset="0.5667" stop-color="#00bfff"/><stop offset="0.627" stop-color="#0097ff"/><stop offset="0.6915" stop-color="#0073ff"/><stop offset="0.7532" stop-color="#0056ff"/><stop offset="0.8852" stop-color="#0028ff"/><stop offset="1" stop-color="#0019ff"/></linearGradient>
<linearGradient id="cf8" gradientUnits="userSpaceOnUse" x1="0" y1="1198.2" x2="0" y2="1372.4" spreadMethod="reflect"><stop offset="0" stop-color="#ff9e00"/><stop offset="0.0488" stop-color="#ff9900"/><stop offset="0.1176" stop-color="#ff8200"/><stop offset="0.1406" stop-color="#ff8300"/><stop offset="0.1578" stop-color="#ff9200"/><stop offset="0.1836" stop-color="#ffdf00"/><stop offset="0.1951" stop-color="#fffd00"/><stop offset="0.1966" stop-color="#fcff00"/><stop offset="0.2152" stop-color="#afff00"/><stop offset="0.231" stop-color="#5bff00"/><stop offset="0.2439" stop-color="#05ff00"/><stop offset="0.2453" stop-color="#00ff00"/><stop offset="0.3458" stop-color="#00ff01"/><stop offset="0.3974" stop-color="#00ff82"/><stop offset="0.4362" stop-color="#00ffbe"/><stop offset="0.4935" stop-color="#00ffff"/><stop offset="0.5667" stop-color="#00bfff"/><stop offset="0.627" stop-color="#0097ff"/><stop offset="0.6915" stop-color="#0073ff"/><stop offset="0.7532" stop-color="#0056ff"/><stop offset="0.8852" stop-color="#0028ff"/><stop offset="1" stop-color="#0019ff"/></linearGradient>
<linearGradient id="cf9" gradientUnits="userSpaceOnUse" x1="0" y1="1198.2" x2="0" y2="1372.4" spreadMethod="reflect"><stop offset="0" stop-color="#ffa000"/><stop offset="0.0459" stop-color="#ff9c00"/><stop offset="0.1148" stop-color="#ff8600"/><stop offset="0.1377" stop-color="#ff8600"/><stop offset="0.1549" stop-color="#ff9300"/><stop offset="0.1937" stop-color="#ffff00"/><stop offset="0.2123" stop-color="#b3ff00"/><stop offset="0.2296" stop-color="#58ff00"/><stop offset="0.2425" stop-color="#01ff00"/><stop offset="0.2439" stop-color="#00ff00"/><stop offset="0.3458" stop-color="#00ff01"/><stop offset="0.3974" stop-color="#00ff84"/><stop offset="0.4347" stop-color="#00ffbd"/><stop offset="0.4921" stop-color="#00feff"/><stop offset="0.5653" stop-color="#00bfff"/><stop offset="0.6255" stop-color="#0097ff"/><stop offset="0.6901" stop-color="#0073ff"/><stop offset="0.7532" stop-color="#0055ff"/><stop offset="0.8852" stop-color="#0028ff"/><stop offset="1" stop-color="#0019ff"/></linearGradient>
<linearGradient id="cf10" gradientUnits="userSpaceOnUse" x1="0" y1="1198.2" x2="0" y2="1372.4" spreadMethod="reflect"><stop offset="0" stop-color="#ffa200"/><stop offset="0.0445" stop-color="#ff9e00"/><stop offset="0.1133" stop-color="#ff8900"/><stop offset="0.1363" stop-color="#ff8900"/><stop offset="0.1535" stop-color="#ff9600"/><stop offset="0.1793" stop-color="#ffdf00"/><stop offset="0.1923" stop-color="#feff00"/><stop offset="0.2109" stop-color="#b1ff00"/><stop offset="0.2267" stop-color="#5dff00"/><stop offset="0.241" stop-color="#00ff00"/><stop offset="0.3458" stop-color="#00ff01"/><stop offset="0.396" stop-color="#00ff82"/><stop offset="0.4333" stop-color="#00ffbd"/><stop offset="0.4892" stop-color="#00ffff"/><stop offset="0.5638" stop-color="#00bfff"/><stop offset="0.6241" stop-color="#0097ff"/><stop offset="0.6887" stop-color="#0074ff"/><stop offset="0.7518" stop-color="#0056ff"/><stop offset="0.8838" stop-color="#0028ff"/><stop offset="1" stop-color="#0019ff"/></linearGradient>
<linearGradient id="cf11" gradientUnits="userSpaceOnUse" x1="0" y1="1198.2" x2="0" y2="1372.4" spreadMethod="reflect"><stop offset="0" stop-color="#ffa400"/><stop offset="0.043" stop-color="#ffa000"/><stop offset="0.1119" stop-color="#ff8b00"/><stop offset="0.1349" stop-color="#ff8b00"/><stop offset="0.1521" stop-color="#ff9900"/><stop offset="0.1894" stop-color="#fffd00"/><stop offset="0.1908" stop-color="#fdff00"/><stop offset="0.2095" stop-color="#afff00"/><stop offset="0.2253" stop-color="#5cff00"/><stop offset="0.2382" stop-color="#06ff00"/><stop offset="0.2396" stop-color="#00ff00"/><stop offset="0.3443" stop-color="#00ff00"/><stop offset="0.3945" stop-color="#00ff82"/><stop offset="0.4319" stop-color="#00ffbe"/><stop offset="0.4878" stop-color="#00feff"/><stop offset="0.5624" stop-color="#00bfff"/><stop offset="0.6241" stop-color="#0097ff"/><stop offset="0.7518" stop-color="#0055ff"/><stop offset="0.8838" stop-color="#0028ff"/><stop offset="1" stop-color="#0019ff"/></linearGradient>
<linearGradient id="cf12" gradientUnits="userSpaceOnUse" x1="0" y1="1198.2" x2="0" y2="1372.4" spreadMethod="reflect"><stop offset="0" stop-color="#ffa600"/><stop offset="0.0416" stop-color="#ffa100"/><stop offset="0.1105" stop-color="#ff8c00"/><stop offset="0.1334" stop-color="#ff8d00"/><stop offset="0.1506" stop-color="#ff9b00"/><stop offset="0.1879" stop-color="#fffd00"/><stop offset="0.1894" stop-color="#fcff00"/><stop offset="0.208" stop-color="#afff00"/><stop offset="0.2238" stop-color="#5bff00"/><stop offset="0.2367" stop-color="#05ff00"/><stop offset="0.2382" stop-color="#00ff00"/><stop offset="0.3429" stop-color="#00ff00"/><stop offset="0.3931" stop-color="#00ff82"/><stop offset="0.4304" stop-color="#00ffbe"/><stop offset="0.4849" stop-color="#00ffff"/><stop offset="0.561" stop-color="#00beff"/><stop offset="0.6227" stop-color="#0097ff"/><stop offset="0.7504" stop-color="#0056ff"/><stop offset="0.8838" stop-color="#0028ff"/><stop offset="1" stop-color="#0019ff"/></linearGradient>
<linearGradient id="cf13" gradientUnits="userSpaceOnUse" x1="0" y1="1198.2" x2="0" y2="1372.4" spreadMethod="reflect"><stop offset="0" stop-color="#ffa700"/><stop offset="0.0402" stop-color="#ffa300"/><stop offset="0.109" stop-color="#ff8e00"/><stop offset="0.132" stop-color="#ff8e00"/><stop offset="0.1492" stop-color="#ff9c00"/><stop offset="0.1865" stop-color="#fffd00"/><stop offset="0.1879" stop-color="#fcff00"/><stop offset="0.2066" stop-color="#afff00"/><stop offset="0.2224" stop-color="#5cff00"/><stop offset="0.2353" stop-color="#05ff00"/><stop offset="0.2367" stop-color="#00ff00"/><stop offset="0.3429" stop-color="#00ff01"/><stop offset="0.3917" stop-color="#00ff83"/><stop offset="0.429" stop-color="#00ffbf"/><stop offset="0.4821" stop-color="#00ffff"/><stop offset="0.5595" stop-color="#00beff"/><stop offset="0.6212" stop-color="#0097ff"/><stop offset="0.7504" stop-color="#0055ff"/><stop offset="0.8824" stop-color="#0028ff"/><stop offset="1" stop-color="#0019ff"/></linearGradient>
<linearGradient id="cf14" gradientUnits="userSpaceOnUse" x1="0" y1="1198.2" x2="0" y2="1372.4" spreadMethod="reflect"><stop offset="0" stop-color="#ffa800"/><stop offset="0.0387" stop-color="#ffa400"/><stop offset="0.1076" stop-color="#ff8f00"/><stop offset="0.1306" stop-color="#ff8f00"/><stop offset="0.1478" stop-color="#ff9c00"/><stop offset="0.1865" stop-color="#feff00"/><stop offset="0.2052" stop-color="#b1ff00"/><stop offset="0.2209" stop-color="#5dff00"/><stop offset="0.2353" stop-color="#00ff00"/><stop offset="0.3415" stop-color="#00ff01"/><stop offset="0.3902" stop-color="#00ff83"/><stop offset="0.4261" stop-color="#00ffbe"/><stop offset="0.4806" stop-color="#00feff"/><stop offset="0.5567" stop-color="#00bfff"/><stop offset="0.6198" stop-color="#0097ff"/><stop offset="0.7489" stop-color="#0056ff"/><stop offset="0.8824" stop-color="#0028ff"/><stop offset="1" stop-color="#0019ff"/></linearGradient>
<linearGradient id="cf15" gradientUnits="userSpaceOnUse" x1="0" y1="1198.2" x2="0" y2="1372.4" spreadMethod="reflect"><stop offset="0" stop-color="#ffa900"/><stop offset="0.0373" stop-color="#ffa500"/><stop offset="0.1062" stop-color="#ff9000"/><stop offset="0.1291" stop-color="#ff9000"/><stop offset="0.1463" stop-color="#ff9c00"/><stop offset="0.1851" stop-color="#ffff00"/><stop offset="0.2037" stop-color="#b3ff00"/><stop offset="0.2209" stop-color="#58ff00"/><stop offset="0.2339" stop-color="#01ff00"/><stop offset="0.2353" stop-color="#00ff00"/><stop offset="0.34" stop-color="#00ff00"/><stop offset="0.3888" stop-color="#00ff83"/><stop offset="0.4247" stop-color="#00ffbe"/><stop offset="0.4778" stop-color="#00ffff"/><stop offset="0.5552" stop-color="#00bfff"/><stop offset="0.6184" stop-color="#0097ff"/><stop offset="0.7489" stop-color="#0055ff"/><stop offset="0.8824" stop-color="#0028ff"/><stop offset="1" stop-color="#0019ff"/></linearGradient>
<linearGradient id="cf16" gradientUnits="userSpaceOnUse" x1="0" y1="1198.2" x2="0" y2="1372.4" spreadMethod="reflect"><stop offset="0" stop-color="#ffa900"/><stop offset="0.0373" stop-color="#ffa500"/><stop offset="0.1062" stop-color="#ff9000"/><stop offset="0.1291" stop-color="#ff9000"/><stop offset="0.1463" stop-color="#ff9e00"/><stop offset="0.1836" stop-color="#fffd00"/><stop offset="0.1851" stop-color="#fcff00"/><stop offset="0.2037" stop-color="#afff00"/><stop offset="0.2195" stop-color="#5bff00"/><stop offset="0.2324" stop-color="#05ff00"/><stop offset="0.2339" stop-color="#00ff00"/><stop offset="0.3386" stop-color="#00ff00"/><stop offset="0.3874" stop-color="#00ff83"/><stop offset="0.4232" stop-color="#00ffbf"/><stop offset="0.4763" stop-color="#00feff"/><stop offset="0.5538" stop-color="#00bfff"/><stop offset="0.6169" stop-color="#0097ff"/><stop offset="0.7475" stop-color="#0056ff"/><stop offset="0.8809" stop-color="#0028ff"/><stop offset="1" stop-color="#0019ff"/></linearGradient>
<linearGradient id="cf17" gradientUnits="userSpaceOnUse" x1="0" y1="1198.2" x2="0" y2="1372.4" spreadMethod="reflect"><stop offset="0" stop-color="#ffaa00"/><stop offset="0.0359" stop-color="#ffa500"/><stop offset="0.1047" stop-color="#ff9000"/><stop offset="0.1277" stop-color="#ff9000"/><stop offset="0.1449" stop-color="#ff9d00"/><stop offset="0.1836" stop-color="#ffff00"/><stop offset="0.2023" stop-color="#b3ff00"/><stop offset="0.2195" stop-color="#58ff00"/><stop offset="0.2324" stop-color="#01ff00"/><stop offset="0.2339" stop-color="#00ff00"/><stop offset="0.3372" stop-color="#00ff00"/><stop offset="0.3859" stop-color="#00ff83"/><stop offset="0.4218" stop-color="#00ffbf"/><stop offset="0.4749" stop-color="#00feff"/><stop offset="0.5524" stop-color="#00bfff"/><stop offset="0.6169" stop-color="#0097ff"/><stop offset="0.7475" stop-color="#0055ff"/><stop offset="0.8809" stop-color="#0028ff"/><stop offset="1" stop-color="#0019ff"/></linearGradient>
<linearGradient id="cf18" gradientUnits="userSpaceOnUse" x1="0" y1="1198.2" x2="0" y2="1372.4" spreadMethod="reflect"><stop offset="0" stop-color="#ffaa00"/><stop offset="0.0359" stop-color="#ffa600"/><stop offset="0.1047" stop-color="#ff9100"/><stop offset="0.1277" stop-color="#ff9100"/><stop offset="0.1449" stop-color="#ff9d00"/><stop offset="0.1836" stop-color="#feff00"/><stop offset="0.2023" stop-color="#b1ff00"/><stop offset="0.2181" stop-color="#5dff00"/><stop offset="0.2324" stop-color="#00ff00"/><stop offset="0.3357" stop-color="#00ff00"/><stop offset="0.3845" stop-color="#00ff83"/><stop offset="0.4204" stop-color="#00ffbf"/><stop offset="0.472" stop-color="#00ffff"/><stop offset="0.5509" stop-color="#00bfff"/><stop offset="0.6155" stop-color="#0097ff"/><stop offset="0.7461" stop-color="#0056ff"/><stop offset="0.8809" stop-color="#0028ff"/><stop offset="1" stop-color="#0019ff"/></linearGradient>
<linearGradient id="cf19" gradientUnits="userSpaceOnUse" x1="0" y1="1198.2" x2="0" y2="1372.4" spreadMethod="reflect"><stop offset="0" stop-color="#ffaa00"/><stop offset="0.0359" stop-color="#ffa500"/><stop offset="0.1033" stop-color="#ff9100"/><stop offset="0.1277" stop-color="#ff9100"/><stop offset="0.1449" stop-color="#ff9e00"/><stop offset="0.1822" stop-color="#fffd00"/><stop offset="0.1836" stop-color="#fcff00"/><stop offset="0.2023" stop-color="#afff00"/><stop offset="0.2181" stop-color="#5bff00"/><stop offset="0.231" stop-color="#05ff00"/><stop offset="0.2324" stop-color="#00ff00"/><stop offset="0.3343" stop-color="#00ff00"/><stop offset="0.3831" stop-color="#00ff83"/><stop offset="0.4189" stop-color="#00ffbf"/><stop offset="0.4706" stop-color="#00ffff"/><stop offset="0.5509" stop-color="#00beff"/><stop offset="0.6141" stop-color="#0097ff"/><stop offset="0.7461" stop-color="#0056ff"/><stop offset="0.8809" stop-color="#0028ff"/><stop offset="1" stop-color="#0019ff"/></linearGradient>
<linearGradient id="cf20" gradientUnits="userSpaceOnUse" x1="0" y1="1198.2" x2="0" y2="1372.4" spreadMethod="reflect"><stop offset="0" stop-color="#ffaa00"/><stop offset="0.0359" stop-color="#ffa500"/><stop offset="0.1033" stop-color="#ff9100"/><stop offset="0.1277" stop-color="#ff9100"/><stop offset="0.1449" stop-color="#ff9f00"/><stop offset="0.1822" stop-color="#fffe00"/><stop offset="0.2009" stop-color="#b5ff00"/><stop offset="0.2181" stop-color="#5aff00"/><stop offset="0.231" stop-color="#03ff00"/><stop offset="0.2324" stop-color="#00ff00"/><stop offset="0.3329" stop-color="#00ff00"/><stop offset="0.3816" stop-color="#00ff83"/><stop offset="0.4161" stop-color="#00ffbd"/><stop offset="0.4692" stop-color="#00ffff"/><stop offset="0.5495" stop-color="#00beff"/><stop offset="0.6141" stop-color="#0097ff"/><stop offset="0.7461" stop-color="#0055ff"/><stop offset="0.8795" stop-color="#0028ff"/><stop offset="1" stop-color="#0019ff"/></linearGradient>
<linearGradient id="cf21" gradientUnits="userSpaceOnUse" x1="0" y1="1198.2" x2="0" y2="1372.4" spreadMethod="reflect"><stop offset="0" stop-color="#ffaa00"/><stop offset="0.0344" stop-color="#ffa600"/><stop offset="0.1033" stop-color="#ff9100"/><stop offset="0.1263" stop-color="#ff9100"/><stop offset="0.1449" stop-color="#ffa000"/><stop offset="0.1822" stop-color="#fffe00"/><stop offset="0.2009" stop-color="#b4ff00"/><stop offset="0.2181" stop-color="#58ff00"/><stop offset="0.231" stop-color="#02ff00"/><stop offset="0.2324" stop-color="#00ff00"/><stop offset="0.3329" stop-color="#00ff01"/><stop offset="0.3802" stop-color="#00ff83"/><stop offset="0.4146" stop-color="#00ffbd"/><stop offset="0.4677" stop-color="#00feff"/><stop offset="0.5481" stop-color="#00bfff"/><stop offset="0.6126" stop-color="#0097ff"/><stop offset="0.7446" stop-color="#0056ff"/><stop offset="0.8795" stop-color="#0028ff"/><stop offset="1" stop-color="#0019ff"/></linearGradient>
<linearGradient id="cf22" gradientUnits="userSpaceOnUse" x1="0" y1="1198.2" x2="0" y2="1372.4" spreadMethod="reflect"><stop offset="0" stop-color="#ffaa00"/><stop offset="0.0344" stop-color="#ffa600"/><stop offset="0.1033" stop-color="#ff9100"/><stop offset="0.1263" stop-color="#ff9100"/><stop offset="0.1435" stop-color="#ff9d00"/><stop offset="0.1822" stop-color="#ffff00"/><stop offset="0.2009" stop-color="#b3ff00"/><stop offset="0.2181" stop-color="#58ff00"/><stop offset="0.231" stop-color="#01ff00"/><stop offset="0.2324" stop-color="#00ff00"/><stop offset="0.3314" stop-color="#00ff00"/><stop offset="0.3788" stop-color="#00ff83"/><stop offset="0.4132" stop-color="#00ffbd"/><stop offset="0.4663" stop-color="#00feff"/><stop offset="0.5466" stop-color="#00bfff"/><stop offset="0.6112" stop-color="#0097ff"/><stop offset="0.7446" stop-color="#0055ff"/><stop offset="0.8795" stop-color="#0028ff"/><stop offset="1" stop-color="#0019ff"/></linearGradient>
<linearGradient id="cf23" gradientUnits="userSpaceOnUse" x1="0" y1="1198.2" x2="0" y2="1372.4" spreadMethod="reflect"><stop offset="0" stop-color="#ffaa00"/><stop offset="0.0344" stop-color="#ffa600"/><stop offset="0.1033" stop-color="#ff9100"/><stop offset="0.1263" stop-color="#ff9100"/><stop offset="0.1435" stop-color="#ff9d00"/><stop offset="0.1822" stop-color="#ffff00"/><stop offset="0.2009" stop-color="#b2ff00"/><stop offset="0.2181" stop-color="#57ff00"/><stop offset="0.231" stop-color="#00ff00"/><stop offset="0.33" stop-color="#00ff00"/><stop offset="0.3773" stop-color="#00ff83"/><stop offset="0.4118" stop-color="#00ffbe"/><stop offset="0.4634" stop-color="#00feff"/><stop offset="0.5452" stop-color="#00beff"/><stop offset="0.6098" stop-color="#0097ff"/><stop offset="0.7432" stop-color="#0056ff"/><stop offset="0.8795" stop-color="#0028ff"/><stop offset="1" stop-color="#0019ff"/></linearGradient>
<linearGradient id="cf24" gradientUnits="userSpaceOnUse" x1="0" y1="1198.2" x2="0" y2="1372.4" spreadMethod="reflect"><stop offset="0" stop-color="#ffaa00"/><stop offset="0.0344" stop-color="#ffa600"/><stop offset="0.1033" stop-color="#ff9100"/><stop offset="0.1263" stop-color="#ff9100"/><stop offset="0.1435" stop-color="#ff9d00"/><stop offset="0.1822" stop-color="#feff00"/><stop offset="0.2009" stop-color="#b2ff00"/><stop offset="0.2181" stop-color="#56ff00"/><stop offset="0.231" stop-color="#00ff00"/><stop offset="0.3286" stop-color="#00ff00"/><stop offset="0.3745" stop-color="#00ff82"/><stop offset="0.4089" stop-color="#00ffbe"/><stop offset="0.4591" stop-color="#00ffff"/><stop offset="0.5423" stop-color="#00bfff"/><stop offset="0.6083" stop-color="#0097ff"/><stop offset="0.7432" stop-color="#0055ff"/><stop offset="0.878" stop-color="#0028ff"/><stop offset="1" stop-color="#0019ff"/></linearGradient>
<linearGradient id="cf25" gradientUnits="userSpaceOnUse" x1="0" y1="1198.2" x2="0" y2="1372.4" spreadMethod="reflect"><stop offset="0" stop-color="#ffaa00"/><stop offset="0.0344" stop-color="#ffa600"/><stop offset="0.1033" stop-color="#ff9100"/><stop offset="0.1263" stop-color="#ff9100"/><stop offset="0.1435" stop-color="#ff9d00"/><stop offset="0.1822" stop-color="#feff00"/><stop offset="0.2009" stop-color="#b2ff00"/><stop offset="0.2181" stop-color="#56ff00"/><stop offset="0.231" stop-color="#00ff00"/><stop offset="0.3271" stop-color="#00ff00"/><stop offset="0.373" stop-color="#00ff83"/><stop offset="0.4075" stop-color="#00ffbe"/><stop offset="0.4577" stop-color="#00ffff"/><stop offset="0.5409" stop-color="#00bfff"/><stop offset="0.6069" stop-color="#0097ff"/><stop offset="0.7418" stop-color="#0056ff"/><stop offset="0.878" stop-color="#0028ff"/><stop offset="1" stop-color="#0019ff"/></linearGradient>
<linearGradient id="cf26" gradientUnits="userSpaceOnUse" x1="0" y1="1198.2" x2="0" y2="1372.4" spreadMethod="reflect"><stop offset="0" stop-color="#ffaa00"/><stop offset="0.0344" stop-color="#ffa600"/><stop offset="0.1033" stop-color="#ff9100"/><stop offset="0.1263" stop-color="#ff9100"/><stop offset="0.1435" stop-color="#ff9d00"/><stop offset="0.1822" stop-color="#feff00"/><stop offset="0.2009" stop-color="#b1ff00"/><stop offset="0.2181" stop-color="#56ff00"/><stop offset="0.231" stop-color="#00ff00"/><stop offset="0.3257" stop-color="#00ff01"/><stop offset="0.3716" stop-color="#00ff83"/><stop offset="0.406" stop-color="#00ffbe"/><stop offset="0.4562" stop-color="#00ffff"/><stop offset="0.5395" stop-color="#00bfff"/><stop offset="0.6069" stop-color="#0097ff"/><stop offset="0.7418" stop-color="#0055ff"/><stop offset="0.878" stop-color="#0028ff"/><stop offset="1" stop-color="#0019ff"/></linearGradient>
<linearGradient id="cf27" gradientUnits="userSpaceOnUse" x1="0" y1="1198.2" x2="0" y2="1372.4" spreadMethod="reflect"><stop offset="0" stop-color="#ffaa00"/><stop offset="0.0344" stop-color="#ffa600"/><stop offset="0.1033" stop-color="#ff9100"/><stop offset="0.1263" stop-color="#ff9100"/><stop offset="0.1435" stop-color="#ff9d00"/><stop offset="0.1822" stop-color="#feff00"/><stop offset="0.2009" stop-color="#b1ff00"/><stop offset="0.2181" stop-color="#55ff00"/><stop offset="0.231" stop-color="#00ff00"/><stop offset="0.3242" stop-color="#00ff02"/><stop offset="0.3702" stop-color="#00ff83"/><stop offset="0.4046" stop-color="#00ffbf"/><stop offset="0.4548" stop-color="#00ffff"/><stop offset="0.5395" stop-color="#00beff"/><stop offset="0.6055" stop-color="#0097ff"/><stop offset="0.7403" stop-color="#0056ff"/><stop offset="0.878" stop-color="#0028ff"/><stop offset="1" stop-color="#0019ff"/></linearGradient>
<linearGradient id="cf28" gradientUnits="userSpaceOnUse" x1="0" y1="1198.2" x2="0" y2="1372.4" spreadMethod="reflect"><stop offset="0" stop-color="#ffaa00"/><stop offset="0.0344" stop-color="#ffa600"/><stop offset="0.1033" stop-color="#ff9100"/><stop offset="0.1263" stop-color="#ff9100"/><stop offset="0.1435" stop-color="#ff9d00"/><stop offset="0.1822" stop-color="#feff00"/><stop offset="0.2009" stop-color="#b1ff00"/><stop offset="0.2181" stop-color="#55ff00"/><stop offset="0.231" stop-color="#00ff00"/><stop offset="0.3214" stop-color="#00ff00"/><stop offset="0.3687" stop-color="#00ff84"/><stop offset="0.4032" stop-color="#00ffbf"/><stop offset="0.4534" stop-color="#00ffff"/><stop offset="0.538" stop-color="#00bfff"/><stop offset="0.604" stop-color="#0097ff"/><stop offset="0.7403" stop-color="#0056ff"/><stop offset="0.8766" stop-color="#0028ff"/><stop offset="1" stop-color="#0019ff"/></linearGradient>
<clipPath id="cpC"><rect x="141.8" y="1023.4" width="696.4" height="696.6"/></clipPath>
<filter id="blx" filterUnits="userSpaceOnUse" x="111.8" y="1003.4" width="756.4" height="736.6"><feGaussianBlur stdDeviation="1.1 0.6"/></filter>
<filter id="blf" filterUnits="userSpaceOnUse" x="111.8" y="1003.4" width="756.4" height="736.6"><feGaussianBlur stdDeviation="4.5 0.6"/></filter>
<linearGradient id="cbC" x1="0" y1="0" x2="0" y2="1"><stop offset="0" stop-color="#ff1000"/><stop offset="0.243" stop-color="#ffff00"/><stop offset="0.345" stop-color="#30ff00"/><stop offset="0.36" stop-color="#00ff00"/><stop offset="0.55" stop-color="#00ff00"/><stop offset="0.746" stop-color="#00ffff"/><stop offset="0.965" stop-color="#0020ff"/><stop offset="1" stop-color="#0008ff"/></linearGradient>
<g id="chn"><rect x="-0.1" y="1019.4" width="1.9" height="704.6" fill="url(#cn0)"/><rect x="1.4" y="1019.4" width="1.9" height="704.6" fill="url(#cn1)"/><rect x="3" y="1019.4" width="1.9" height="704.6" fill="url(#cn2)"/><rect x="4.5" y="1019.4" width="1.9" height="704.6" fill="url(#cn3)"/><rect x="6" y="1019.4" width="1.9" height="704.6" fill="url(#cn4)"/><rect x="7.5" y="1019.4" width="1.9" height="704.6" fill="url(#cn5)"/><rect x="8.9" y="1019.4" width="1.9" height="704.6" fill="url(#cn6)"/><rect x="10.4" y="1019.4" width="1.9" height="704.6" fill="url(#cn7)"/><rect x="11.9" y="1019.4" width="1.9" height="704.6" fill="url(#cn8)"/><rect x="13.4" y="1019.4" width="1.9" height="704.6" fill="url(#cn9)"/><rect x="14.9" y="1019.4" width="1.9" height="704.6" fill="url(#cn10)"/><rect x="16.4" y="1019.4" width="1.9" height="704.6" fill="url(#cn11)"/><rect x="17.9" y="1019.4" width="1.9" height="704.6" fill="url(#cn12)"/><rect x="19.4" y="1019.4" width="1.9" height="704.6" fill="url(#cn13)"/><rect x="20.9" y="1019.4" width="1.9" height="704.6" fill="url(#cn14)"/><rect x="22.4" y="1019.4" width="1.9" height="704.6" fill="url(#cn15)"/><rect x="23.9" y="1019.4" width="1.9" height="704.6" fill="url(#cn16)"/><rect x="25.4" y="1019.4" width="1.9" height="704.6" fill="url(#cn17)"/><rect x="26.9" y="1019.4" width="1.9" height="704.6" fill="url(#cn18)"/><rect x="28.4" y="1019.4" width="1.9" height="704.6" fill="url(#cn19)"/><rect x="29.9" y="1019.4" width="1.9" height="704.6" fill="url(#cn20)"/><rect x="31.4" y="1019.4" width="1.9" height="704.6" fill="url(#cn21)"/><rect x="33" y="1019.4" width="1.9" height="704.6" fill="url(#cn22)"/><rect x="34.5" y="1019.4" width="1.9" height="704.6" fill="url(#cn23)"/><rect x="36" y="1019.4" width="2.4" height="704.6" fill="url(#cn24)"/><rect x="38" y="1019.4" width="2.4" height="704.6" fill="url(#cn25)"/><rect x="40" y="1019.4" width="2.4" height="704.6" fill="url(#cn26)"/><rect x="42" y="1019.4" width="2.4" height="704.6" fill="url(#cn27)"/><rect x="44" y="1019.4" width="2.4" height="704.6" fill="url(#cn28)"/><rect x="46" y="1019.4" width="2.4" height="704.6" fill="url(#cn29)"/></g><g id="cgn"><use href="#chn"/><use href="#chn" transform="scale(-1 1)"/></g>
<g id="chf"><rect x="36" y="1019.4" width="4.4" height="704.6" fill="url(#cf0)"/><rect x="40" y="1019.4" width="4.4" height="704.6" fill="url(#cf1)"/><rect x="44" y="1019.4" width="4.4" height="704.6" fill="url(#cf2)"/><rect x="48" y="1019.4" width="4.4" height="704.6" fill="url(#cf3)"/><rect x="52" y="1019.4" width="4.4" height="704.6" fill="url(#cf4)"/><rect x="56" y="1019.4" width="4.4" height="704.6" fill="url(#cf5)"/><rect x="60" y="1019.4" width="4.4" height="704.6" fill="url(#cf6)"/><rect x="64" y="1019.4" width="4.4" height="704.6" fill="url(#cf7)"/><rect x="68" y="1019.4" width="4.4" height="704.6" fill="url(#cf8)"/><rect x="72" y="1019.4" width="4.4" height="704.6" fill="url(#cf9)"/><rect x="76" y="1019.4" width="4.4" height="704.6" fill="url(#cf10)"/><rect x="80" y="1019.4" width="4.4" height="704.6" fill="url(#cf11)"/><rect x="84" y="1019.4" width="4.4" height="704.6" fill="url(#cf12)"/><rect x="88" y="1019.4" width="4.4" height="704.6" fill="url(#cf13)"/><rect x="92" y="1019.4" width="4.4" height="704.6" fill="url(#cf14)"/><rect x="96" y="1019.4" width="4.4" height="704.6" fill="url(#cf15)"/><rect x="100" y="1019.4" width="4.4" height="704.6" fill="url(#cf16)"/><rect x="104" y="1019.4" width="4.4" height="704.6" fill="url(#cf17)"/><rect x="108" y="1019.4" width="4.4" height="704.6" fill="url(#cf18)"/><rect x="112" y="1019.4" width="4.4" height="704.6" fill="url(#cf19)"/><rect x="116" y="1019.4" width="4.4" height="704.6" fill="url(#cf20)"/><rect x="120" y="1019.4" width="4.4" height="704.6" fill="url(#cf21)"/><rect x="124" y="1019.4" width="4.4" height="704.6" fill="url(#cf22)"/><rect x="128" y="1019.4" width="8.4" height="704.6" fill="url(#cf23)"/><rect x="135.9" y="1019.4" width="8.4" height="704.6" fill="url(#cf24)"/><rect x="143.9" y="1019.4" width="8.4" height="704.6" fill="url(#cf25)"/><rect x="151.9" y="1019.4" width="8.4" height="704.6" fill="url(#cf26)"/><rect x="159.9" y="1019.4" width="8.4" height="704.6" fill="url(#cf27)"/><rect x="167.9" y="1019.4" width="8.4" height="704.6" fill="url(#cf28)"/></g><g id="cgf"><use href="#chf"/><use href="#chf" transform="scale(-1 1)"/></g>
</defs>
<g id="pa">
<path d="M191.6 366.4C192 365.2 193 361.3 193.8 358.8C194.5 356.2 195.3 353.6 196 351.1C196.8 348.5 197.6 346 198.4 343.4C199.2 340.9 200 338.3 201 335.9C202 333.4 203.1 330.9 204.3 328.6C205.5 326.2 206.8 323.9 208.3 321.7C209.8 319.6 211.4 317.4 213.3 315.6C215.2 313.7 217.2 312.1 219.4 310.6C221.6 309.2 224.1 308.1 226.4 306.9C228.8 305.7 231.3 304.8 233.5 303.4C235.8 302 237.9 300.4 239.8 298.6C241.7 296.8 243.4 294.7 244.9 292.6C246.5 290.4 247.8 288.1 249.2 285.8C250.6 283.5 251.8 281.2 253.1 278.8C254.3 276.5 255.4 274 256.5 271.6C257.7 269.2 258.7 266.7 259.8 264.3C260.9 261.9 262 259.5 263.2 257.1C264.3 254.7 265.5 252.3 266.7 249.9C267.9 247.5 269.1 245.1 270.4 242.8C271.7 240.5 273 238.1 274.5 235.9C276 233.8 277.6 231.4 279.5 230C281.4 228.6 283.8 227.3 285.9 227.4C288 227.5 290.2 228.9 291.9 230.5C293.6 232.1 294.8 234.8 296 237.1C297.2 239.4 298.2 241.9 299.1 244.4C300.1 246.9 300.9 249.4 301.8 252C302.6 254.5 303.4 257.1 304.1 259.6C304.8 262.2 305.4 264.8 306 267.4C306.6 270 307 272.6 307.5 275.2C308 277.9 308.5 280.5 309 283.1C309.5 285.7 310 288.4 310.4 291C310.9 293.6 311.4 296.2 311.9 298.9C312.4 301.5 312.9 304.1 313.3 306.7C313.8 309.4 314.3 312 314.8 314.6C315.3 317.2 315.8 319.8 316.2 322.5C316.7 325.1 317.2 327.7 317.7 330.3C318.2 333 318.7 335.6 319.2 338.2C319.6 340.8 320.1 343.5 320.6 346.1C321.1 348.7 321.6 351.3 322 354C322.5 356.6 323 359.2 323.4 361.9C323.8 364.5 324.1 367.1 324.5 369.8C324.9 372.4 325.2 375.1 325.6 377.7C326 380.4 326.3 383 326.7 385.6C327.1 388.3 327.4 390.9 327.8 393.6C328.2 396.2 328.5 398.9 328.9 401.5C329.3 404.1 329.7 406.8 330.1 409.4C330.5 412.1 330.9 414.7 331.3 417.3C331.7 420 332.1 422.6 332.5 425.3C332.8 427.9 333.2 430.5 333.6 433.2C334 435.8 334.4 438.4 334.8 441.1C335.2 443.7 335.5 446.4 335.9 449C336.3 451.7 336.6 454.3 337 456.9C337.4 459.6 337.7 462.2 338.1 464.9C338.5 467.5 338.8 470.2 339.2 472.8C339.6 475.4 339.9 478.1 340.3 480.7C340.7 483.4 341.1 486 341.5 488.6C341.9 491.3 342.4 493.9 342.7 496.6C343.1 499.2 343.5 501.8 343.8 504.5C344.1 507.1 344.4 509.8 344.7 512.4C345 515.1 345.3 517.7 345.7 520.4C346 523 346.3 525.7 346.7 528.3C347.1 531 347.5 533.6 347.9 536.2C348.3 538.9 348.7 541.5 349.1 544.1C349.6 546.8 350 549.4 350.4 552.1C350.8 554.7 351.2 557.3 351.6 560C352.1 562.6 352.5 565.2 353 567.9C353.4 570.5 353.9 573.1 354.4 575.7C354.9 578.4 355.4 581 355.9 583.6C356.4 586.2 356.9 588.8 357.4 591.5C357.9 594.1 358.4 596.7 358.9 599.3C359.4 601.9 360 604.5 360.6 607.1C361.2 609.7 361.8 612.3 362.4 614.9C363 617.5 363.6 620.1 364.2 622.7C364.8 625.3 365.5 627.9 366.2 630.5C366.8 633.1 367.5 635.7 368.2 638.2C368.9 640.8 369.6 643.4 370.4 645.9C371.1 648.5 371.9 651 372.8 653.6C373.7 656.1 374.6 658.6 375.6 661.1C376.6 663.5 377.5 666 378.8 668.4C380 670.7 381.3 673.1 383 675C384.7 676.8 386.7 678.6 388.9 679.4C391 680.1 393.6 680 395.7 679.3C397.9 678.6 400.1 676.8 401.9 675C403.8 673.3 405.3 671 406.9 668.9C408.4 666.7 409.7 664.4 411.1 662.1C412.4 659.8 413.5 657.4 414.7 655C415.9 652.6 417 650.2 418.1 647.7C419.2 645.3 420.2 642.8 421.2 640.3C422.2 637.9 423.2 635.4 424.2 632.9C425.2 630.4 426.2 628 427.1 625.5C428.1 623 429.1 620.5 430 618C431 615.5 431.9 613 432.9 610.5C433.9 608 434.8 605.6 435.8 603.1C436.8 600.6 437.8 598.1 438.8 595.6C439.8 593.2 440.8 590.7 441.8 588.3C442.9 585.8 443.9 583.3 444.9 580.9C446 578.4 447 576 448.1 573.5C449.2 571.1 450.3 568.6 451.4 566.2C452.5 563.8 453.5 561.3 454.7 558.9C455.8 556.5 456.9 554.1 458.2 551.8C459.5 549.4 460.9 547.1 462.2 544.8C463.6 542.6 465 540.3 466.5 538.1C468 535.9 469.5 533.7 471.1 531.5C472.7 529.4 474.3 527.3 476 525.2C477.6 523.1 479.4 521.1 481.2 519.1C483 517.2 484.9 515.3 486.8 513.5C488.8 511.7 490.8 510 492.9 508.4C495 506.7 497.3 505.3 499.5 503.8C501.7 502.4 504 501 506.4 499.7C508.7 498.5 511.1 497.3 513.5 496.1C515.9 495 518.4 493.9 520.8 492.9C523.3 491.8 525.8 490.8 528.2 489.9C530.7 488.9 533.2 488 535.7 487.1C538.2 486.2 540.8 485.3 543.3 484.4C545.8 483.5 548.3 482.6 550.8 481.7C553.3 480.7 555.7 479.7 558.2 478.6C560.6 477.6 563.1 476.4 565.5 475.3C567.9 474.2 570.4 473.1 572.8 472C575.2 470.9 577.6 469.7 580 468.5C582.4 467.3 584.8 466.1 587.1 464.9C589.5 463.8 591.9 462.6 594.3 461.4C596.7 460.2 599.1 459 601.5 457.8C603.9 456.6 606.2 455.4 608.6 454.2C611 453 613.4 451.8 615.8 450.7C618.2 449.5 620.7 448.4 623.1 447.3C625.5 446.2 627.9 445.1 630.4 444.1C632.8 443 635.3 441.9 637.7 440.9C640.2 439.8 642.7 438.8 645.1 437.8C647.6 436.8 650.1 435.8 652.6 434.9C655.1 434 657.6 433.1 660.1 432.3C662.7 431.5 665.3 430.9 667.8 430.2C670.4 429.5 673 428.8 675.6 428.2C678.2 427.7 680.8 427.1 683.4 426.7C686 426.2 688.7 425.8 691.3 425.4C693.9 425 696.6 424.6 699.2 424.3C701.9 424 704.5 423.7 707.2 423.4C709.8 423.2 712.5 422.9 715.1 422.7C717.8 422.5 720.5 422.3 723.1 422.1C725.8 422 728.4 421.8 731.1 421.6C733.8 421.5 736.4 421.3 739.1 421.2C741.8 421.1 744.4 420.9 747.1 420.8C749.8 420.7 752.4 420.5 755.1 420.4C757.7 420.3 760.4 420.1 763.1 420C765.7 419.8 768.4 419.7 771.1 419.5C773.7 419.3 776.4 419.1 779 418.9C781.7 418.7 784.3 418.5 787 418.2C789.6 417.9 792.3 417.6 794.9 417.3C797.6 417 800.2 416.6 802.9 416.2C805.5 415.8 808.1 415.4 810.7 415C813.4 414.5 816 414 818.6 413.5C821.2 413 823.8 412.5 826.4 411.9C829 411.3 831.6 410.8 834.2 410.2C836.8 409.5 839.4 408.9 842 408.3C844.6 407.6 847.2 407 849.8 406.3C852.4 405.6 854.9 405 857.5 404.3C860.1 403.6 862.7 402.9 865.2 402.1C867.8 401.4 870.4 400.7 872.9 400C875.5 399.3 878.1 398.5 880.6 397.8C883.2 397 885.8 396.3 888.3 395.5C890.9 394.8 893.4 394 896 393.2C898.5 392.5 901.1 391.7 903.7 391C906.2 390.2 908.8 389.4 911.3 388.7C913.9 387.9 916.4 387.1 919 386.4C921.6 385.6 924.1 384.8 926.7 384.1C929.2 383.3 931.8 382.5 934.3 381.8C936.9 381 939.5 380.3 942 379.5C944.6 378.8 947.1 378 949.7 377.3C952.3 376.5 954.8 375.8 957.4 375.1C960 374.4 962.5 373.6 965.1 372.9C967.7 372.2 970.3 371.5 972.8 370.8C975.4 370.2 978 369.5 980.6 368.8C983.2 368.1 985.7 367.5 988.3 366.8C990.9 366.2 993.5 365.5 996.1 364.9C998.7 364.3 1001.3 363.7 1003.9 363.1C1006.5 362.5 1009.1 361.9 1011.7 361.4C1014.3 360.8 1016.9 360.3 1019.5 359.8C1022.2 359.3 1024.8 358.8 1027.4 358.3C1030 357.8 1032.7 357.4 1035.3 356.9C1037.9 356.5 1040.5 356.1 1043.2 355.6C1045.8 355.2 1048.8 354.8 1051.1 354.5C1053.4 354.1 1056 353.7 1057 353.6" fill="none" stroke="#ff1a1a" stroke-width="2.6" stroke-linejoin="round"/>
<path d="M192.6 269.6C193.4 268.5 195.8 265.2 197.3 263.1C198.9 260.9 200.4 258.7 201.9 256.5C203.4 254.3 204.9 252.1 206.4 249.9C207.9 247.7 209.4 245.5 210.9 243.3C212.4 241.1 214 238.9 215.5 236.7C217.1 234.6 218.6 232.4 220.2 230.3C221.8 228.1 223.5 226 225.1 224C226.8 221.9 228.5 219.9 230.3 217.9C232.1 215.9 234 214 235.9 212.2C237.8 210.3 239.8 208.6 241.8 206.9C243.9 205.2 246 203.6 248.2 202C250.4 200.5 252.6 199.1 254.9 197.7C257.2 196.4 259.6 195.2 262 194C264.3 192.8 266.8 191.7 269.2 190.6C271.6 189.4 274 188.3 276.5 187.2C278.9 186.1 281.3 185 283.8 184C286.2 182.9 288.6 181.8 291.1 180.8C293.6 179.8 296.1 178.8 298.6 178.1C301.1 177.5 303.7 176.9 306.2 176.9C308.7 176.8 311.3 177.2 313.7 178C316 178.8 318.3 180.1 320.4 181.6C322.5 183.1 324.4 185 326.1 186.9C327.8 188.9 329.3 191 330.7 193.3C332 195.5 333.1 198 334.2 200.4C335.3 202.8 336.3 205.3 337.3 207.8C338.2 210.2 339.2 212.7 340 215.2C340.9 217.8 341.7 220.3 342.6 222.8C343.4 225.4 344.2 227.9 345 230.5C345.8 233 346.6 235.6 347.3 238.1C348.1 240.7 348.8 243.2 349.5 245.8C350.2 248.4 350.9 251 351.5 253.6C352.2 256.1 352.8 258.7 353.4 261.3C354 263.9 354.6 266.5 355.2 269.1C355.8 271.7 356.3 274.3 356.8 277C357.4 279.6 357.9 282.2 358.4 284.8C358.9 287.4 359.4 290.1 359.9 292.7C360.4 295.3 360.9 297.9 361.4 300.5C361.8 303.2 362.3 305.8 362.8 308.4C363.3 311 363.8 313.7 364.3 316.3C364.8 318.9 365.3 321.5 365.8 324.1C366.3 326.8 366.8 329.4 367.3 332C367.8 334.6 368.3 337.3 368.7 339.9C369.2 342.5 369.7 345.1 370.2 347.7C370.7 350.4 371.2 353 371.7 355.6C372.2 358.2 372.6 360.9 373.1 363.5C373.6 366.1 374.1 368.7 374.5 371.4C375 374 375.4 376.6 375.9 379.2C376.4 381.9 376.8 384.5 377.3 387.1C377.7 389.8 378.2 392.4 378.6 395C379.1 397.6 379.5 400.3 379.9 402.9C380.4 405.5 380.8 408.2 381.2 410.8C381.6 413.5 381.9 416.1 382.3 418.7C382.7 421.4 383.1 424 383.5 426.7C383.9 429.3 384.3 431.9 384.7 434.6C385.1 437.2 385.6 439.8 386 442.5C386.4 445.1 386.9 447.7 387.3 450.4C387.8 453 388.3 455.6 388.7 458.2C389.2 460.9 389.6 463.5 390.1 466.1C390.6 468.8 391 471.4 391.5 474C391.9 476.6 392.4 479.3 392.9 481.9C393.4 484.5 393.8 487.1 394.3 489.8C394.8 492.4 395.3 495 395.7 497.6C396.1 500.3 396.6 502.9 397 505.5C397.4 508.2 397.8 510.8 398.2 513.5C398.6 516.1 399 518.7 399.4 521.4C399.7 524 400.1 526.6 400.5 529.3C400.9 531.9 401.3 534.6 401.7 537.2C402.1 539.8 402.5 542.5 403 545.1C403.4 547.7 403.9 550.4 404.4 553C404.8 555.6 405.4 558.2 405.9 560.8C406.4 563.5 406.9 566.1 407.5 568.7C408 571.3 408.5 573.9 409 576.5C409.6 579.1 410.1 581.8 410.7 584.4C411.2 587 411.8 589.6 412.3 592.2C412.9 594.8 413.5 597.4 414 600C414.6 602.6 415.2 605.2 415.8 607.8C416.4 610.4 417 613 417.6 615.6C418.3 618.2 418.9 620.8 419.6 623.4C420.2 626 420.9 628.5 421.6 631.1C422.3 633.7 423 636.3 423.7 638.8C424.5 641.4 425.2 644 426 646.5C426.8 649.1 427.6 651.6 428.4 654.1C429.3 656.7 430.2 659.2 431.1 661.7C432 664.2 433 666.7 434 669.1C435 671.6 436.1 674 437.3 676.4C438.4 678.8 439.6 681.2 440.9 683.5C442.2 685.9 443.5 688.2 445 690.4C446.4 692.6 448 694.8 449.7 696.7C451.4 698.7 453.3 700.6 455.3 702.1C457.4 703.5 459.7 704.9 462 705.5C464.3 706.1 466.9 706.2 469.3 705.8C471.6 705.4 474 704.3 476.2 703.1C478.4 701.8 480.4 700 482.3 698.2C484.2 696.5 486 694.4 487.7 692.4C489.5 690.4 491.1 688.3 492.7 686.2C494.3 684.1 495.8 681.9 497.3 679.7C498.8 677.4 500.2 675.2 501.6 672.9C503.1 670.7 504.5 668.4 505.9 666.2C507.3 663.9 508.8 661.7 510.2 659.4C511.6 657.2 513.1 654.9 514.5 652.7C515.9 650.4 517.4 648.2 518.8 645.9C520.2 643.7 521.7 641.4 523.1 639.2C524.5 636.9 526 634.7 527.4 632.4C528.8 630.2 530.3 627.9 531.7 625.7C533.2 623.4 534.6 621.2 536.1 619C537.6 616.8 539.2 614.6 540.7 612.5C542.3 610.3 543.8 608.1 545.4 606C547 603.8 548.6 601.7 550.2 599.5C551.8 597.4 553.4 595.3 555.1 593.2C556.7 591.1 558.4 589.1 560.1 587C561.8 585 563.5 582.9 565.3 580.9C567 578.8 568.7 576.8 570.4 574.8C572.2 572.8 574 570.8 575.8 568.8C577.6 566.9 579.5 565 581.4 563.1C583.2 561.2 585.1 559.3 587 557.4C588.9 555.6 590.8 553.7 592.8 551.9C594.7 550.1 596.7 548.3 598.8 546.6C600.8 544.9 602.9 543.2 604.9 541.5C607 539.8 609.1 538.2 611.2 536.6C613.3 534.9 615.5 533.3 617.6 531.8C619.8 530.3 622 528.8 624.3 527.3C626.5 525.8 628.7 524.4 631 522.9C633.2 521.5 635.4 520 637.7 518.6C639.9 517.1 642.1 515.7 644.4 514.2C646.6 512.8 648.9 511.3 651.1 509.9C653.4 508.4 655.6 507 657.9 505.6C660.1 504.2 662.4 502.8 664.7 501.4C667 500.1 669.3 498.7 671.6 497.4C673.9 496 676.2 494.7 678.5 493.4C680.8 492 683.2 490.8 685.5 489.5C687.8 488.2 690.2 486.9 692.5 485.7C694.9 484.4 697.3 483.2 699.6 481.9C702 480.7 704.4 479.5 706.7 478.3C709.1 477.1 711.5 475.9 713.9 474.7C716.3 473.6 718.7 472.4 721.1 471.3C723.5 470.1 725.9 469 728.3 467.8C730.7 466.7 733.2 465.6 735.6 464.5C738 463.4 740.4 462.3 742.9 461.2C745.3 460.1 747.7 459 750.2 457.9C752.6 456.8 755.1 455.8 757.5 454.7C760 453.7 762.4 452.6 764.9 451.6C767.3 450.5 769.8 449.5 772.3 448.5C774.7 447.4 777.2 446.4 779.7 445.4C782.1 444.4 784.6 443.5 787.1 442.5C789.6 441.5 792.1 440.5 794.5 439.6C797 438.7 799.5 437.7 802 436.8C804.5 435.9 807 435 809.6 434.1C812.1 433.2 814.6 432.3 817.1 431.5C819.6 430.6 822.2 429.8 824.7 428.9C827.2 428.1 829.8 427.3 832.3 426.4C834.8 425.6 837.4 424.8 839.9 424C842.5 423.2 845 422.4 847.6 421.7C850.1 420.9 852.7 420.1 855.2 419.3C857.8 418.6 860.3 417.8 862.9 417.1C865.5 416.3 868 415.6 870.6 414.8C873.1 414.1 875.7 413.3 878.3 412.6C880.8 411.9 883.4 411.1 886 410.4C888.5 409.7 891.1 409 893.7 408.2C896.2 407.5 898.8 406.8 901.4 406.1C904 405.4 906.5 404.7 909.1 404C911.7 403.3 914.2 402.6 916.8 401.9C919.4 401.1 922 400.4 924.5 399.7C927.1 399 929.7 398.3 932.3 397.6C934.8 396.9 937.4 396.2 940 395.5C942.6 394.8 945.1 394.1 947.7 393.4C950.3 392.7 952.9 392 955.4 391.3C958 390.6 960.6 390 963.2 389.3C965.7 388.6 968.3 387.9 970.9 387.2C973.5 386.5 976.1 385.8 978.6 385.2C981.2 384.5 983.8 383.8 986.4 383.1C989 382.5 991.5 381.8 994.1 381.1C996.7 380.5 999.3 379.8 1001.9 379.1C1004.5 378.5 1007 377.8 1009.6 377.1C1012.2 376.5 1014.8 375.8 1017.4 375.2C1020 374.5 1022.5 373.8 1025.1 373.2C1027.7 372.5 1030.3 371.9 1032.9 371.2C1035.5 370.5 1038.1 369.9 1040.6 369.2C1043.2 368.6 1045.8 367.9 1048.4 367.2C1051 366.6 1054.5 365.7 1056.1 365.2C1057.8 364.8 1057.8 364.8 1058.1 364.8" fill="none" stroke="#ffaa00" stroke-width="4.6" stroke-linejoin="round"/>
<path d="M192.6 224.3C193.6 223.3 196.2 220.3 198.1 218.5C200 216.6 202 214.8 204 213.2C206.1 211.5 208.3 210 210.5 208.6C212.8 207.1 215.1 205.9 217.4 204.6C219.7 203.3 222.1 202.1 224.4 200.7C226.7 199.3 228.9 197.9 231.1 196.3C233.2 194.8 235.1 193 237.1 191.2C239.1 189.4 240.9 187.5 242.8 185.6C244.7 183.8 246.6 181.9 248.5 180C250.4 178.1 252.3 176.2 254.2 174.3C256.1 172.4 258 170.5 259.9 168.7C261.8 166.8 263.7 165 265.7 163.2C267.6 161.4 269.6 159.5 271.7 157.9C273.7 156.2 275.8 154.6 278.1 153.2C280.3 151.9 282.7 150.6 285.1 149.7C287.5 148.8 290.1 148.2 292.7 147.8C295.2 147.5 297.9 147.6 300.5 147.8C303.1 148.1 305.7 148.7 308.2 149.4C310.7 150.1 313.2 151.1 315.7 152C318.1 153 320.6 154.1 323 155.2C325.4 156.4 327.8 157.6 330 158.9C332.3 160.3 334.5 161.8 336.6 163.4C338.7 165 340.7 166.7 342.6 168.5C344.6 170.4 346.4 172.3 348.2 174.3C350 176.2 351.7 178.3 353.3 180.4C355 182.4 356.6 184.6 358.1 186.7C359.7 188.9 361.1 191.2 362.5 193.4C363.9 195.7 365.2 198 366.5 200.3C367.8 202.7 369 205.1 370.2 207.4C371.4 209.8 372.5 212.2 373.7 214.7C374.8 217.1 375.9 219.5 376.9 222C378 224.4 379 226.9 379.9 229.4C380.9 231.9 381.8 234.4 382.8 236.9C383.7 239.4 384.6 241.9 385.5 244.4C386.3 246.9 387.2 249.5 388 252C388.8 254.5 389.6 257.1 390.4 259.6C391.1 262.2 391.9 264.8 392.6 267.3C393.4 269.9 394.1 272.4 394.9 275C395.6 277.6 396.3 280.2 396.9 282.7C397.6 285.3 398.3 287.9 398.9 290.5C399.5 293.1 400.2 295.7 400.8 298.3C401.4 300.9 402.1 303.5 402.7 306.1C403.3 308.7 404 311.3 404.6 313.8C405.2 316.4 405.9 319 406.5 321.6C407.1 324.2 407.8 326.8 408.4 329.4C409 332 409.7 334.6 410.3 337.2C410.9 339.8 411.6 342.4 412.2 345C412.8 347.6 413.4 350.2 414 352.8C414.7 355.4 415.3 358 415.8 360.6C416.4 363.2 416.9 365.8 417.4 368.4C417.9 371 418.4 373.7 418.9 376.3C419.4 378.9 419.9 381.5 420.4 384.1C420.9 386.8 421.4 389.4 421.9 392C422.4 394.6 422.9 397.3 423.4 399.9C423.9 402.5 424.4 405.1 425 407.7C425.5 410.3 426.1 412.9 426.6 415.6C427.2 418.2 427.7 420.8 428.3 423.4C428.9 426 429.4 428.6 430 431.2C430.5 433.8 431.1 436.4 431.7 439C432.2 441.7 432.8 444.3 433.4 446.9C434 449.5 434.5 452.1 435.1 454.7C435.7 457.3 436.3 459.9 436.9 462.5C437.5 465.1 438.1 467.7 438.7 470.3C439.2 472.9 439.8 475.5 440.5 478.1C441.1 480.7 441.7 483.3 442.4 485.9C443 488.5 443.7 491.1 444.4 493.6C445 496.2 445.7 498.8 446.3 501.4C446.9 504 447.5 506.6 448.1 509.2C448.7 511.8 449.3 514.4 449.9 517C450.5 519.6 451.1 522.2 451.7 524.8C452.3 527.4 452.9 530 453.5 532.6C454.1 535.2 454.7 537.8 455.3 540.4C455.9 543 456.5 545.6 457.1 548.2C457.8 550.8 458.4 553.4 459.1 556C459.7 558.6 460.3 561.2 461 563.8C461.6 566.3 462.3 568.9 463 571.5C463.6 574.1 464.3 576.7 465 579.3C465.7 581.8 466.4 584.4 467.2 587C467.9 589.5 468.6 592.1 469.4 594.7C470.1 597.2 470.8 599.8 471.6 602.4C472.4 604.9 473.2 607.5 474 610C474.8 612.6 475.6 615.1 476.5 617.6C477.3 620.2 478.1 622.7 479 625.2C479.9 627.7 480.7 630.3 481.6 632.8C482.5 635.3 483.4 637.8 484.3 640.3C485.2 642.8 486.1 645.3 487.1 647.8C488 650.3 488.9 652.8 490 655.3C491 657.8 492 660.2 493.1 662.7C494.1 665.1 495.2 667.6 496.4 670C497.5 672.4 498.7 674.8 499.9 677.2C501.1 679.5 502.3 681.9 503.7 684.2C505 686.5 506.3 688.8 507.8 691C509.3 693.3 510.8 695.4 512.4 697.5C514.1 699.6 515.8 701.7 517.6 703.5C519.5 705.4 521.5 707.2 523.6 708.7C525.7 710.2 528 711.6 530.3 712.5C532.7 713.4 535.3 714.1 537.8 714.3C540.3 714.5 543 714.2 545.5 713.7C548 713.2 550.5 712.2 552.9 711.2C555.3 710.1 557.6 708.7 559.8 707.3C562 705.8 564.1 704.2 566.1 702.5C568.2 700.8 570.1 699 572.1 697.2C574 695.3 575.8 693.4 577.7 691.5C579.5 689.5 581.3 687.6 583.1 685.6C584.8 683.6 586.6 681.5 588.3 679.5C590 677.5 591.7 675.4 593.4 673.3C595.1 671.3 596.8 669.2 598.5 667.1C600.1 665.1 601.8 663 603.5 660.9C605.2 658.8 606.8 656.7 608.5 654.7C610.2 652.6 611.8 650.5 613.5 648.4C615.2 646.3 616.8 644.2 618.5 642.2C620.2 640.1 621.8 638 623.5 635.9C625.2 633.8 626.8 631.7 628.5 629.7C630.2 627.6 631.9 625.5 633.6 623.4C635.3 621.4 637 619.3 638.7 617.3C640.5 615.3 642.3 613.3 644 611.3C645.8 609.3 647.6 607.4 649.4 605.4C651.2 603.4 653 601.5 654.9 599.5C656.7 597.6 658.5 595.7 660.4 593.8C662.3 591.8 664.2 590 666.1 588.1C668 586.2 669.9 584.4 671.8 582.5C673.7 580.7 675.7 578.9 677.7 577.1C679.7 575.3 681.7 573.6 683.8 571.9C685.8 570.2 687.9 568.6 690 566.9C692.1 565.3 694.2 563.7 696.4 562.1C698.5 560.5 700.7 559 702.8 557.5C705 555.9 707.2 554.4 709.4 553C711.7 551.5 713.9 550 716.1 548.6C718.3 547.1 720.6 545.7 722.8 544.2C725.1 542.8 727.3 541.4 729.6 540C731.9 538.6 734.1 537.2 736.4 535.8C738.7 534.4 740.9 533 743.2 531.6C745.5 530.2 747.8 528.8 750 527.4C752.3 526 754.6 524.6 756.8 523.2C759.1 521.8 761.4 520.4 763.7 519C765.9 517.6 768.2 516.2 770.5 514.8C772.8 513.4 775 512 777.3 510.6C779.6 509.3 781.9 507.9 784.2 506.5C786.5 505.1 788.8 503.8 791.1 502.4C793.4 501.1 795.7 499.8 798 498.4C800.3 497.1 802.6 495.8 804.9 494.5C807.3 493.2 809.6 491.9 811.9 490.6C814.3 489.3 816.6 488 819 486.7C821.3 485.5 823.7 484.2 826 483C828.4 481.7 830.7 480.5 833.1 479.2C835.5 478 837.8 476.8 840.2 475.5C842.6 474.3 844.9 473.1 847.3 471.9C849.7 470.6 852.1 469.4 854.5 468.2C856.8 467 859.2 465.8 861.6 464.6C864 463.4 866.4 462.2 868.8 461C871.1 459.8 873.5 458.6 875.9 457.4C878.3 456.3 880.7 455.1 883.1 453.9C885.5 452.7 887.9 451.5 890.3 450.3C892.7 449.2 895.1 448 897.5 446.8C899.9 445.6 902.3 444.5 904.7 443.3C907.1 442.2 909.5 441 911.9 439.9C914.3 438.7 916.7 437.6 919.1 436.4C921.5 435.3 924 434.2 926.4 433C928.8 431.9 931.2 430.8 933.6 429.7C936.1 428.6 938.5 427.5 940.9 426.4C943.4 425.3 945.8 424.2 948.2 423.1C950.7 422 953.1 420.9 955.5 419.8C958 418.7 960.4 417.7 962.9 416.6C965.3 415.5 967.8 414.5 970.2 413.4C972.7 412.4 975.1 411.3 977.6 410.3C980 409.2 982.5 408.2 985 407.2C987.4 406.2 989.9 405.2 992.4 404.2C994.9 403.2 997.3 402.2 999.8 401.2C1002.3 400.2 1004.8 399.2 1007.3 398.3C1009.7 397.3 1012.2 396.3 1014.7 395.4C1017.2 394.4 1019.7 393.5 1022.2 392.6C1024.7 391.7 1027.2 390.8 1029.8 389.8C1032.3 388.9 1034.8 388 1037.3 387.2C1039.8 386.3 1042.3 385.4 1044.8 384.5C1047.4 383.6 1050.2 382.6 1052.4 381.9C1054.6 381.1 1057.1 380.2 1058.1 379.9" fill="none" stroke="#00f510" stroke-width="5.0" stroke-linejoin="round"/>
<path d="M192.6 241.1C193.7 240.3 197 238.1 199 236.4C201.1 234.7 203 232.9 204.8 231C206.6 229.1 208.3 227 210 225C211.7 222.9 213.4 220.8 215 218.7C216.7 216.6 218.3 214.5 219.9 212.4C221.5 210.3 223.2 208.2 224.8 206.1C226.4 203.9 228.1 201.8 229.7 199.7C231.4 197.6 233 195.5 234.7 193.5C236.4 191.4 238.1 189.4 239.8 187.3C241.5 185.3 243.3 183.3 245.1 181.3C246.8 179.3 248.6 177.3 250.4 175.3C252.2 173.4 254.1 171.4 255.9 169.5C257.8 167.6 259.7 165.7 261.5 163.8C263.4 161.9 265.3 160 267.2 158.2C269.1 156.3 271 154.4 273 152.6C274.9 150.8 276.9 149 279 147.4C281.1 145.7 283.2 144 285.3 142.5C287.5 140.9 289.7 139.4 292 138.1C294.2 136.7 296.6 135.5 299 134.4C301.4 133.4 303.9 132.5 306.5 131.8C309 131.2 311.7 130.7 314.3 130.5C316.9 130.3 319.5 130.3 322.1 130.6C324.7 130.9 327.3 131.5 329.8 132.2C332.3 133 334.8 134 337.2 135.1C339.6 136.2 342 137.4 344.3 138.7C346.6 140 348.9 141.4 351.1 142.8C353.4 144.3 355.5 145.9 357.7 147.4C359.8 149 361.9 150.7 364 152.3C366 154 368 155.8 370 157.6C371.9 159.4 373.8 161.3 375.7 163.2C377.5 165.1 379.4 167.1 381.2 169.1C383 171 384.7 173 386.5 175C388.2 177.1 389.8 179.2 391.5 181.3C393.1 183.4 394.7 185.5 396.3 187.7C397.9 189.8 399.5 192 401 194.1C402.6 196.3 404.1 198.5 405.6 200.7C407.1 202.9 408.6 205.1 410 207.4C411.4 209.6 412.8 211.9 414.2 214.2C415.5 216.5 416.8 218.8 418.1 221.2C419.4 223.5 420.6 225.9 421.8 228.2C423 230.6 424.2 233 425.4 235.4C426.5 237.8 427.6 240.3 428.7 242.7C429.7 245.2 430.8 247.6 431.8 250.1C432.8 252.5 433.8 255 434.7 257.5C435.6 260 436.4 262.6 437.2 265.1C438 267.7 438.8 270.2 439.6 272.8C440.4 275.3 441.2 277.8 442.1 280.4C442.9 282.9 443.7 285.4 444.6 288C445.4 290.5 446.3 293 447.2 295.6C448 298.1 448.9 300.6 449.8 303.1C450.6 305.7 451.5 308.2 452.4 310.7C453.2 313.2 454.1 315.8 455 318.3C455.8 320.8 456.7 323.3 457.5 325.9C458.4 328.4 459.3 330.9 460.1 333.4C461 336 461.9 338.5 462.7 341C463.6 343.5 464.5 346.1 465.3 348.6C466.2 351.1 467 353.6 467.8 356.2C468.7 358.7 469.4 361.3 470.2 363.8C471 366.4 471.7 369 472.4 371.5C473.1 374.1 473.8 376.7 474.5 379.2C475.2 381.8 475.9 384.4 476.6 387C477.4 389.5 478.1 392.1 478.8 394.7C479.5 397.3 480.2 399.8 480.9 402.4C481.6 405 482.3 407.6 483 410.1C483.7 412.7 484.4 415.3 485.1 417.9C485.8 420.4 486.6 423 487.3 425.6C488 428.1 488.7 430.7 489.4 433.3C490.1 435.9 490.8 438.4 491.5 441C492.2 443.6 492.9 446.2 493.6 448.7C494.3 451.3 495 453.9 495.8 456.5C496.5 459 497.2 461.6 497.9 464.2C498.6 466.7 499.3 469.3 500 471.9C500.7 474.5 501.4 477 502.2 479.6C502.9 482.2 503.6 484.7 504.3 487.3C505.1 489.9 505.8 492.4 506.6 495C507.4 497.5 508.2 500.1 509 502.6C509.8 505.2 510.6 507.7 511.5 510.2C512.3 512.8 513.2 515.3 514 517.8C514.9 520.4 515.7 522.9 516.6 525.4C517.4 528 518.3 530.5 519.1 533C520 535.5 520.8 538.1 521.7 540.6C522.5 543.1 523.4 545.7 524.2 548.2C525.1 550.7 525.9 553.3 526.7 555.8C527.6 558.3 528.4 560.9 529.3 563.4C530.1 565.9 531 568.4 531.9 571C532.7 573.5 533.6 576 534.5 578.5C535.4 581 536.3 583.6 537.2 586.1C538.1 588.6 539 591.1 539.9 593.6C540.9 596.1 541.8 598.6 542.8 601.1C543.7 603.6 544.7 606 545.7 608.5C546.8 611 547.8 613.4 548.8 615.9C549.9 618.4 550.9 620.8 552 623.3C553 625.7 554.1 628.1 555.3 630.6C556.4 633 557.5 635.4 558.7 637.8C559.8 640.2 561 642.6 562.2 645C563.4 647.4 564.6 649.7 565.9 652.1C567.2 654.4 568.5 656.8 569.8 659.1C571.1 661.4 572.4 663.7 573.8 666C575.2 668.3 576.6 670.5 578.1 672.8C579.6 675 581.1 677.2 582.6 679.4C584.2 681.5 585.8 683.7 587.4 685.7C589.1 687.8 590.8 689.9 592.6 691.8C594.4 693.8 596.2 695.7 598.2 697.5C600.1 699.4 602.1 701.1 604.2 702.7C606.3 704.3 608.5 705.9 610.8 707.2C613 708.5 615.4 709.7 617.9 710.6C620.3 711.6 622.9 712.3 625.4 712.8C628 713.3 630.7 713.6 633.3 713.6C635.9 713.7 638.5 713.4 641.1 713C643.7 712.6 646.3 711.9 648.8 711C651.3 710.2 653.8 709.1 656.2 708C658.6 706.9 661 705.7 663.3 704.4C665.6 703.1 667.9 701.7 670.1 700.3C672.4 698.9 674.6 697.4 676.7 695.9C678.9 694.3 681 692.8 683.1 691.2C685.3 689.6 687.3 687.9 689.4 686.2C691.5 684.6 693.5 682.9 695.6 681.2C697.6 679.5 699.6 677.8 701.7 676C703.7 674.3 705.7 672.5 707.7 670.8C709.7 669 711.7 667.2 713.6 665.4C715.6 663.7 717.6 661.8 719.5 660C721.5 658.2 723.4 656.4 725.4 654.6C727.3 652.7 729.2 650.9 731.2 649.1C733.1 647.2 735 645.4 736.9 643.5C738.9 641.6 740.8 639.8 742.7 637.9C744.6 636 746.5 634.2 748.4 632.3C750.3 630.4 752.1 628.5 754 626.6C755.9 624.8 757.8 622.9 759.7 621C761.6 619.1 763.5 617.2 765.3 615.3C767.2 613.4 769.1 611.5 771 609.7C772.9 607.8 774.8 605.9 776.7 604C778.6 602.2 780.5 600.3 782.4 598.5C784.4 596.6 786.3 594.8 788.2 593C790.2 591.2 792.2 589.4 794.1 587.6C796.1 585.8 798.1 584 800.1 582.3C802.1 580.5 804.1 578.7 806.1 577C808.2 575.3 810.2 573.5 812.2 571.8C814.3 570.1 816.3 568.4 818.4 566.7C820.5 565 822.5 563.3 824.6 561.7C826.7 560 828.7 558.3 830.8 556.6C832.9 555 835 553.3 837.1 551.7C839.2 550 841.3 548.4 843.4 546.7C845.5 545.1 847.6 543.4 849.7 541.8C851.8 540.2 854 538.6 856.1 537C858.2 535.3 860.3 533.7 862.5 532.1C864.6 530.5 866.8 529 868.9 527.4C871.1 525.8 873.2 524.2 875.4 522.7C877.5 521.1 879.7 519.5 881.9 518C884 516.4 886.2 514.9 888.4 513.3C890.6 511.8 892.8 510.3 894.9 508.7C897.1 507.2 899.3 505.7 901.5 504.2C903.7 502.7 905.9 501.2 908.1 499.7C910.4 498.2 912.6 496.7 914.8 495.2C917 493.8 919.2 492.3 921.5 490.8C923.7 489.4 926 487.9 928.2 486.5C930.5 485.1 932.7 483.6 935 482.2C937.2 480.8 939.5 479.4 941.8 478C944.1 476.7 946.4 475.3 948.7 473.9C951 472.6 953.3 471.2 955.6 469.9C957.9 468.6 960.2 467.2 962.5 465.9C964.8 464.6 967.2 463.3 969.5 462.1C971.9 460.8 974.2 459.5 976.6 458.3C978.9 457 981.3 455.8 983.6 454.5C986 453.3 988.4 452.1 990.8 450.9C993.1 449.7 995.5 448.5 997.9 447.3C1000.3 446.1 1002.7 444.9 1005.1 443.7C1007.5 442.6 1009.9 441.4 1012.3 440.3C1014.7 439.2 1017.1 438 1019.6 436.9C1022 435.8 1024.4 434.7 1026.8 433.6C1029.3 432.5 1031.7 431.4 1034.2 430.4C1036.6 429.3 1039.1 428.2 1041.5 427.2C1044 426.1 1046.4 425.1 1048.9 424C1051.3 423 1054.7 421.6 1056.2 420.9C1057.8 420.3 1057.8 420.3 1058.1 420.1" fill="none" stroke="#00aaff" stroke-width="5.0" stroke-linejoin="round"/>
<rect x="186.8" y="81" width="876.4" height="691.7" fill="none" stroke="#111" stroke-width="3.3"/>
<path d="M186.8 767.4h18.5M186.8 631.2h18.5M186.8 495.1h18.5M186.8 358.9h18.5M186.8 222.8h18.5M186.8 86.6h18.5M190.8 772.7v-19.4M335.1 772.7v-19.4M479.5 772.7v-19.4M623.9 772.7v-19.4M768.2 772.7v-19.4M912.5 772.7v-19.4M1056.9 772.7v-19.4" stroke="#111" stroke-width="2.3" fill="none"/>
<text x="175.8" y="794.2" font-size="47.3" text-anchor="end" fill="#000">0.0</text>
<text x="175.8" y="658" font-size="47.3" text-anchor="end" fill="#000">0.2</text>
<text x="175.8" y="521.9" font-size="47.3" text-anchor="end" fill="#000">0.4</text>
<text x="175.8" y="385.7" font-size="47.3" text-anchor="end" fill="#000">0.6</text>
<text x="175.8" y="249.6" font-size="47.3" text-anchor="end" fill="#000">0.8</text>
<text x="175.8" y="113.4" font-size="47.3" text-anchor="end" fill="#000">1.0</text>
<text x="197.1" y="831" font-size="47.3" text-anchor="middle" fill="#000">400</text>
<text x="341.4" y="831" font-size="47.3" text-anchor="middle" fill="#000">500</text>
<text x="485.8" y="831" font-size="47.3" text-anchor="middle" fill="#000">600</text>
<text x="630.1" y="831" font-size="47.3" text-anchor="middle" fill="#000">700</text>
<text x="774.5" y="831" font-size="47.3" text-anchor="middle" fill="#000">800</text>
<text x="918.8" y="831" font-size="47.3" text-anchor="middle" fill="#000">900</text>
<text x="1063.2" y="831" font-size="47.3" text-anchor="middle" fill="#000">1000</text>
<text x="382.3" y="899.5" font-size="61.7" text-anchor="start" fill="#000">Wavelength [nm]</text>
<text transform="translate(70 446.5) rotate(-90)" font-size="62.5" text-anchor="middle">Reflectance</text>
<rect x="727" y="124" width="310.2" height="204.8" fill="#fff" stroke="#111" stroke-width="3.3"/>
<path d="M741.5 164.5H818.5" stroke="#ff1a1a" stroke-width="3.3"/>
<text x="838.5" y="177.8" font-size="47.6"><tspan class="i" font-size="48.5">h</tspan><tspan x="865.8" font-weight="bold">=</tspan>20 nm</text>
<path d="M741.5 209.5H818.5" stroke="#ffaa00" stroke-width="5.3"/>
<text x="838.5" y="221.8" font-size="47.6"><tspan class="i" font-size="48.5">h</tspan><tspan x="865.8" font-weight="bold">=</tspan>30 nm</text>
<path d="M741.5 254H818.5" stroke="#00f510" stroke-width="5.8"/>
<text x="838.5" y="265.8" font-size="47.6"><tspan class="i" font-size="48.5">h</tspan><tspan x="865.8" font-weight="bold">=</tspan>40 nm</text>
<path d="M741.5 298.7H818.5" stroke="#00aaff" stroke-width="5.5"/>
<text x="838.5" y="310.6" font-size="47.6"><tspan class="i" font-size="48.5">h</tspan><tspan x="865.8" font-weight="bold">=</tspan>50 nm</text>
<text x="31.5" y="70" font-size="64.5" text-anchor="start" fill="#000">(a)</text>
</g>
<g id="pb">
<path d="M1261 105H2117.5V565.6H2119.2V784.6H1259.5V565.6H1261Z" fill="#00ff00"/>
<path d="M1261.3 105V565.6M1259.9 565.6V784.6" stroke="#00ffc8" stroke-width="1.2" fill="none" opacity="0.8"/>
<path d="M2117.3 105V565.6M2118.9 565.6V784.6" stroke="#00ffc8" stroke-width="1" fill="none" opacity="0.6"/>
<g id="bu">
<g clip-path="url(#cpU)">
<ellipse cx="1396.5" cy="352" rx="68" ry="94" fill="url(#bH)"/>
<ellipse cx="1430" cy="346.4" rx="21" ry="17.5" fill="url(#bC)"/>
<ellipse cx="1531.4" cy="352" rx="38.7" ry="46.5" fill="url(#rH)"/>
<ellipse cx="1516.7" cy="346.4" rx="20.5" ry="19" fill="url(#rC)"/>
</g>
<ellipse cx="1457" cy="356.5" rx="8" ry="5" fill="#00ffa0" opacity="0.7"/>
<path d="M1440.5 352V506" stroke="#10d060" stroke-width="1.6" opacity="0.8"/>
<path d="M1511 352V526" stroke="#00e4a8" stroke-width="2.4" opacity="0.8"/>
<g clip-path="url(#cpM)">
<path d="M1511 452C1506 480 1490 505 1483 532H1543C1536 505 1516 480 1511 452Z" fill="url(#sH)" filter="url(#bl3)"/>
<ellipse cx="1507.5" cy="525" rx="17" ry="13" fill="url(#sC)"/>
<ellipse cx="1507.7" cy="527" rx="8" ry="6.5" fill="url(#sB)"/>
<ellipse cx="1442.5" cy="526.2" rx="13" ry="7.5" fill="url(#sO)"/>
<path d="M1440.4 504V519" stroke="#c8e800" stroke-width="2" opacity="0.55"/>
</g>
<ellipse cx="1520.5" cy="538" rx="9" ry="7" fill="url(#sG)"/>
<g clip-path="url(#cpL)">
<ellipse cx="1551.5" cy="566" rx="52" ry="41" fill="url(#lH)"/>
</g>
</g>
<use href="#bu" x="428"/>
<path d="M1261 352.2H2117.5M1261 532H2117.5M1260 565.6H2119" stroke="#14d246" stroke-width="1.6" fill="none" opacity="0.75"/>
<text x="1277.5" y="168" font-size="54.5" text-anchor="start" fill="#000">@690 nm</text>
<text x="2157.5" y="162" font-size="48.8">E<tspan font-size="34" dy="9">z</tspan><tspan dy="-9"> (mV/m)</tspan></text>
<rect x="2254.5" y="211.4" width="48" height="515.6" fill="url(#cbB)"/>
<text x="2243" y="240" font-size="46" text-anchor="end" fill="#000">500</text>
<text x="2245" y="744" font-size="46" text-anchor="end" fill="#000"><tspan font-size="56" dy="1.5">−</tspan><tspan dy="-1.5">500</tspan></text>
<text x="1159" y="77" font-size="64" text-anchor="start" fill="#000">(b)</text>
</g>
<g id="pc">
<g clip-path="url(#cpC)"><g filter="url(#blf)">
<use href="#cgf" x="315.5"/>
<use href="#cgf" x="664.7"/>
</g><g filter="url(#blx)">
<use href="#cgn" x="315.5"/>
<use href="#cgn" x="664.7"/>
</g></g>
<rect x="145.9" y="1027.7" width="688.3" height="688.1" fill="none" stroke="#00e6f5" stroke-width="1.9" stroke-opacity="0.45"/>
<rect x="144" y="1025.7" width="692.1" height="692" fill="none" stroke="#00ebf5" stroke-width="2.1"/>
<rect x="142.1" y="1023.7" width="695.9" height="696" fill="none" stroke="#14d4a0" stroke-width="1.9"/>
<rect x="140.3" y="1021.9" width="699.6" height="699.8" fill="none" stroke="#fadcaa" stroke-width="1.9"/>
<path d="M286.5 1023.8h58M286.5 1719.6h58M635.7 1023.8h58M635.7 1719.6h58M142.1 1170.2v56M838 1170.2v56M142.1 1518.6v56M838 1518.6v56" stroke="#149650" stroke-width="1.8" fill="none" opacity="0.9"/>
<path d="M153.2 1194.7H815" stroke="#000" stroke-width="10.4" stroke-dasharray="39.6 29.5" fill="none"/>
<text x="161" y="1077.3" font-size="48.3" text-anchor="start" fill="#fff">@690 nm</text>
<text x="879" y="1033.4" font-size="48.5" text-anchor="start" fill="#000">E (mV/m)</text>
<rect x="944.5" y="1076.6" width="60.8" height="639.6" fill="url(#cbC)"/>
<text x="928.8" y="1103" font-size="45.5" text-anchor="end" fill="#000">700</text>
<text x="926" y="1735" font-size="45.5" text-anchor="end" fill="#000">0</text>
<text x="31" y="975.3" font-size="64.5" text-anchor="start" fill="#000">(c)</text>
</g>
<g id="pd">
<path d="M1314.7 1246.9C1319.3 1246.7 1334.1 1246.4 1342.1 1245.8C1350.2 1245.3 1356.2 1244.6 1363.2 1243.7C1370.2 1242.8 1377.2 1241.8 1384.2 1240.6C1391.3 1239.3 1398.3 1237.9 1405.3 1236.4C1412.3 1234.8 1420.1 1232.7 1426.4 1231.1C1432.7 1229.5 1438.3 1227.8 1443.2 1226.9C1448.1 1225.9 1452.4 1225.5 1455.9 1225.4C1459.4 1225.3 1461.5 1225.3 1464.3 1226.2C1467.1 1227.2 1469.9 1228.4 1472.7 1231.1C1475.5 1233.8 1478.3 1237.6 1481.1 1242.7C1483.9 1247.8 1486.8 1253.9 1489.6 1261.6C1492.4 1269.4 1495.2 1279.2 1498 1289C1500.8 1298.8 1503.6 1310.4 1506.4 1320.6C1509.2 1330.8 1512.4 1341.7 1514.8 1350.1C1517.3 1358.5 1519.2 1365.5 1521.2 1371.2C1523.1 1376.8 1524.8 1381 1526.4 1383.8C1528 1386.6 1529.2 1387.8 1530.6 1388C1532 1388.2 1533.3 1387.3 1534.8 1384.8C1536.4 1382.4 1538.2 1378.7 1540.1 1373.3C1542 1367.8 1544.3 1359.6 1546.4 1352.2C1548.5 1344.8 1550.3 1338.5 1552.7 1329C1555.2 1319.6 1558.4 1305.9 1561.2 1295.3C1564 1284.8 1566.8 1274.3 1569.6 1265.8C1572.4 1257.4 1575.2 1250.2 1578 1244.8C1580.8 1239.3 1583.6 1236.2 1586.4 1233.2C1589.3 1230.2 1592.1 1228.2 1594.9 1226.9C1597.7 1225.5 1600.5 1225.4 1603.3 1225.2C1606.1 1224.9 1608.2 1224.9 1611.7 1225.4C1615.2 1225.9 1619.4 1226.9 1624.4 1228.4C1629.3 1229.8 1635.6 1232.1 1641.2 1233.8C1646.8 1235.5 1651.7 1237 1658.1 1238.5C1664.4 1239.9 1672.1 1241.6 1679.1 1242.7C1686.1 1243.8 1693.2 1244.6 1700.2 1245.2C1707.2 1245.8 1713 1246.2 1721.2 1246.5C1729.5 1246.7 1740.2 1246.9 1749.7 1246.9C1759.2 1246.9 1769.9 1246.7 1778.2 1246.5C1786.4 1246.2 1792.2 1245.8 1799.2 1245.2C1806.2 1244.6 1813.3 1243.8 1820.3 1242.7C1827.3 1241.6 1835 1239.9 1841.3 1238.5C1847.7 1237 1852.6 1235.5 1858.2 1233.8C1863.8 1232.1 1870.1 1229.8 1875 1228.4C1880 1226.9 1884.2 1225.9 1887.7 1225.4C1891.2 1224.9 1893.3 1224.9 1896.1 1225.2C1898.9 1225.4 1901.7 1225.5 1904.5 1226.9C1907.3 1228.2 1910.1 1230.2 1913 1233.2C1915.8 1236.2 1918.6 1239.3 1921.4 1244.8C1924.2 1250.2 1927 1257.4 1929.8 1265.8C1932.6 1274.3 1935.4 1284.8 1938.2 1295.3C1941 1305.9 1944.2 1319.6 1946.7 1329C1949.1 1338.5 1950.9 1344.8 1953 1352.2C1955.1 1359.6 1957.4 1367.8 1959.3 1373.3C1961.2 1378.7 1963 1382.4 1964.6 1384.8C1966.1 1387.3 1967.4 1388.2 1968.8 1388C1970.2 1387.8 1971.4 1386.6 1973 1383.8C1974.6 1381 1976.3 1376.8 1978.2 1371.2C1980.2 1365.5 1982.1 1358.5 1984.6 1350.1C1987 1341.7 1990.2 1330.8 1993 1320.6C1995.8 1310.4 1998.6 1298.8 2001.4 1289C2004.2 1279.2 2007 1269.4 2009.8 1261.6C2012.6 1253.9 2015.5 1247.8 2018.3 1242.7C2021.1 1237.6 2023.9 1233.8 2026.7 1231.1C2029.5 1228.4 2032.3 1227.2 2035.1 1226.2C2037.9 1225.3 2040 1225.3 2043.5 1225.4C2047 1225.5 2051.3 1225.9 2056.2 1226.9C2061.1 1227.8 2066.7 1229.5 2073 1231.1C2079.3 1232.7 2087.1 1234.8 2094.1 1236.4C2101.1 1237.9 2108.1 1239.3 2115.2 1240.6C2122.2 1241.8 2129.2 1242.8 2136.2 1243.7C2143.2 1244.6 2149.2 1245.3 2157.3 1245.8C2165.3 1246.4 2180.1 1246.7 2184.7 1246.9" fill="none" stroke="#ff5500" stroke-width="4.8" stroke-linejoin="round"/>
<path d="M1314.7 1496.5C1319.3 1496.3 1332.3 1496 1342.1 1495.6C1352 1495.3 1363.2 1494.9 1373.7 1494.4C1384.2 1493.9 1396.5 1493.1 1405.3 1492.7C1414.1 1492.2 1420.1 1491.9 1426.4 1491.6C1432.7 1491.4 1438.3 1491.1 1443.2 1491.2C1448.1 1491.3 1452 1491.5 1455.9 1492.3C1459.7 1493 1462.9 1494 1466.4 1495.8C1469.9 1497.7 1473.4 1499.9 1476.9 1503.2C1480.4 1506.5 1483.9 1510.6 1487.5 1515.8C1491 1521.1 1494.8 1528.5 1498 1534.8C1501.1 1541.1 1503.6 1547.4 1506.4 1553.8C1509.2 1560.1 1512.4 1567.6 1514.8 1572.7C1517.3 1577.8 1519.2 1581.1 1521.2 1584.3C1523.1 1587.5 1524.8 1590 1526.4 1591.7C1528 1593.3 1529.2 1594.1 1530.6 1594.2C1532 1594.3 1533.3 1593.6 1534.8 1592.1C1536.4 1590.6 1538.2 1588.6 1540.1 1585.3C1542 1582.1 1544.3 1577.3 1546.4 1572.7C1548.5 1568.1 1550.3 1563.9 1552.7 1558C1555.2 1552 1558.4 1543.6 1561.2 1536.9C1564 1530.2 1566.8 1523.4 1569.6 1517.9C1572.4 1512.5 1575.2 1507.9 1578 1504.3C1580.8 1500.6 1583.6 1497.9 1586.4 1495.8C1589.3 1493.8 1591.7 1492.9 1594.9 1492C1598 1491.2 1601.9 1491 1605.4 1490.8C1608.9 1490.6 1610.7 1490.6 1615.9 1490.8C1621.2 1491 1630 1491.6 1637 1492C1644 1492.5 1651 1492.9 1658.1 1493.3C1665.1 1493.7 1672.1 1494.2 1679.1 1494.6C1686.1 1494.9 1693.2 1495.2 1700.2 1495.4C1707.2 1495.7 1713 1495.9 1721.2 1496C1729.5 1496.2 1740.2 1496.3 1749.7 1496.3C1759.2 1496.3 1769.9 1496.2 1778.2 1496C1786.4 1495.9 1792.2 1495.7 1799.2 1495.4C1806.2 1495.2 1813.3 1494.9 1820.3 1494.6C1827.3 1494.2 1834.3 1493.7 1841.3 1493.3C1848.4 1492.9 1855.4 1492.5 1862.4 1492C1869.4 1491.6 1878.2 1491 1883.5 1490.8C1888.7 1490.6 1890.5 1490.6 1894 1490.8C1897.5 1491 1901.4 1491.2 1904.5 1492C1907.7 1492.9 1910.1 1493.8 1913 1495.8C1915.8 1497.9 1918.6 1500.6 1921.4 1504.3C1924.2 1507.9 1927 1512.5 1929.8 1517.9C1932.6 1523.4 1935.4 1530.2 1938.2 1536.9C1941 1543.6 1944.2 1552 1946.7 1558C1949.1 1563.9 1950.9 1568.1 1953 1572.7C1955.1 1577.3 1957.4 1582.1 1959.3 1585.3C1961.2 1588.6 1963 1590.6 1964.6 1592.1C1966.1 1593.6 1967.4 1594.3 1968.8 1594.2C1970.2 1594.1 1971.4 1593.3 1973 1591.7C1974.6 1590 1976.3 1587.5 1978.2 1584.3C1980.2 1581.1 1982.1 1577.8 1984.6 1572.7C1987 1567.6 1990.2 1560.1 1993 1553.8C1995.8 1547.4 1998.3 1541.1 2001.4 1534.8C2004.6 1528.5 2008.4 1521.1 2011.9 1515.8C2015.5 1510.6 2019 1506.5 2022.5 1503.2C2026 1499.9 2029.5 1497.7 2033 1495.8C2036.5 1494 2039.7 1493 2043.5 1492.3C2047.4 1491.5 2051.3 1491.3 2056.2 1491.2C2061.1 1491.1 2066.7 1491.4 2073 1491.6C2079.3 1491.9 2085.3 1492.2 2094.1 1492.7C2102.9 1493.1 2115.2 1493.9 2125.7 1494.4C2136.2 1494.9 2147.4 1495.3 2157.3 1495.6C2167.1 1496 2180.1 1496.3 2184.7 1496.5" fill="none" stroke="#ffb000" stroke-width="4.8" stroke-linejoin="round"/>
<rect x="1309.3" y="1008.3" width="879.3" height="691.8" fill="none" stroke="#111" stroke-width="3.3"/>
<path d="M1309.3 1014.8h18M1309.3 1128.2h18M1309.3 1241.6h18M1309.3 1355h18M1309.3 1468.4h18M1309.3 1581.8h18M1309.3 1695.2h18M1384.3 1700.1v-18.5M1567 1700.1v-18.5M1749.7 1700.1v-18.5M1932.4 1700.1v-18.5M2115.1 1700.1v-18.5" stroke="#111" stroke-width="2.6" fill="none"/>
<text x="1300.5" y="1042.2" font-size="47" text-anchor="end" fill="#000">800</text>
<text x="1300.5" y="1155.6" font-size="47" text-anchor="end" fill="#000">700</text>
<text x="1300.5" y="1269" font-size="47" text-anchor="end" fill="#000">600</text>
<text x="1300.5" y="1382.4" font-size="47" text-anchor="end" fill="#000">500</text>
<text x="1300.5" y="1495.8" font-size="47" text-anchor="end" fill="#000">400</text>
<text x="1300.5" y="1609.2" font-size="47" text-anchor="end" fill="#000">300</text>
<text x="1300.5" y="1722.6" font-size="47" text-anchor="end" fill="#000">200</text>
<text x="1388.5" y="1757.6" font-size="47" text-anchor="middle" fill="#000"><tspan font-size="62" dy="-2">−</tspan><tspan dy="2">100</tspan></text>
<text x="1571.2" y="1757.6" font-size="47" text-anchor="middle" fill="#000"><tspan font-size="62" dy="-2">−</tspan><tspan dy="2">50</tspan></text>
<text x="1755.3" y="1757.6" font-size="47" text-anchor="middle" fill="#000">0</text>
<text x="1938" y="1757.6" font-size="47" text-anchor="middle" fill="#000">50</text>
<text x="2120.7" y="1757.6" font-size="47" text-anchor="middle" fill="#000">100</text>
<text x="1726.7" y="1821.6" font-size="61.6" text-anchor="middle" fill="#000">y-position [nm]</text>
<text transform="translate(1196.5 1350.5) rotate(-90)" font-size="62.4" text-anchor="middle">Electric field [mV/m]</text>
<rect x="1498" y="1024.5" width="677.8" height="113.5" fill="#fff" stroke="#111" stroke-width="3"/>
<path d="M1512 1064.6H1584.5" stroke="#ff0018" stroke-width="3.4"/>
<path d="M1512 1112.4H1584.5" stroke="#ffaa00" stroke-width="3.4"/>
<text x="1602.6" y="1078.5" font-size="48">w/ silver thin film, <tspan class="i" font-size="52" x="1980.5">sp</tspan><tspan x="2029.5" font-weight="bold">=</tspan>0 nm</text>
<text x="1602.6" y="1125.3" font-size="48">w/o silver thin film</text>
<text x="1162.5" y="983.5" font-size="64.5" text-anchor="start" fill="#000">(d)</text>
</g>
</svg>
</body></html>
